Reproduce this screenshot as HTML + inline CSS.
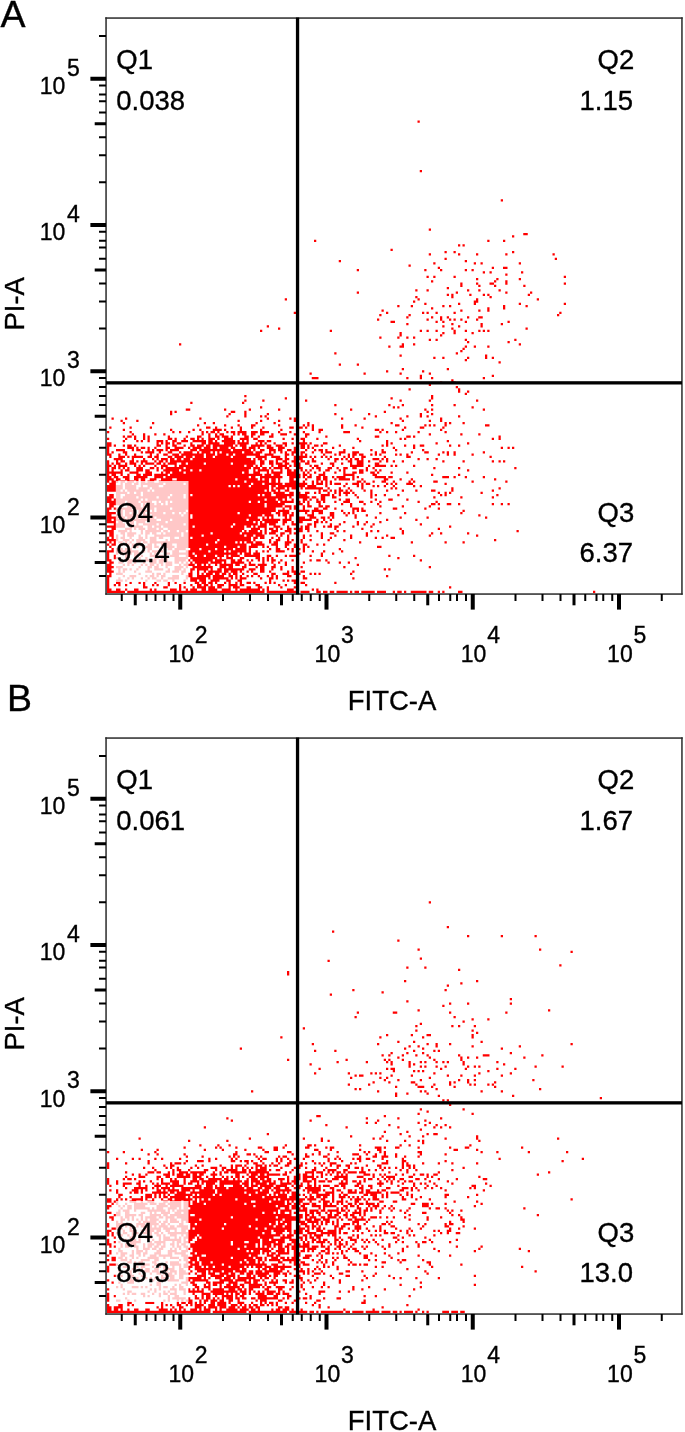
<!DOCTYPE html>
<html><head><meta charset="utf-8"><style>
html,body{margin:0;padding:0;background:#fff;width:685px;height:1432px;overflow:hidden}
svg{display:block;will-change:transform}
text{font-family:"Liberation Sans",sans-serif;stroke:#000;stroke-width:0.35px}
</style></head><body>
<svg width="685" height="1432" viewBox="0 0 685 1432">
<g transform="translate(107.0 17.0) scale(2.25)"><path fill="#f00" d="M138 46h1v1h-1zM139 68h1v1h-1zM175 81h1v1h-1zM143 94h1v1h-1zM185 96h2v1h-2zM180 97h1v1h-1zM92 99h1v1h-1zM169 99h1v1h-1zM176 99h1v1h-1zM156 101h1v1h-1zM158 101h1v1h-1zM126 103h1v1h-1zM150 104h1v1h-1zM154 104h1v1h-1zM180 104h1v1h-1zM143 105h1v1h-1zM156 105h1v1h-1zM164 105h1v1h-1zM177 105h1v1h-1zM198 105h1v1h-1zM150 107h1v1h-1zM199 107h1v1h-1zM103 108h1v1h-1zM159 108h1v1h-1zM145 109h1v1h-1zM163 109h1v1h-1zM166 109h1v1h-1zM183 109h1v1h-1zM134 110h1v1h-1zM147 111h1v1h-1zM171 111h1v1h-1zM176 111h2v1h-2zM111 112h1v1h-1zM141 112h1v1h-1zM148 112h1v1h-1zM159 112h1v1h-1zM162 112h1v1h-1zM167 113h1v1h-1zM170 113h1v1h-1zM184 113h1v1h-1zM177 114h1v1h-1zM142 115h1v1h-1zM145 115h1v1h-1zM154 115h1v1h-1zM203 115h1v1h-1zM164 116h1v1h-1zM173 116h1v1h-1zM183 116h1v1h-1zM144 117h1v1h-1zM172 117h1v1h-1zM177 117h1v1h-1zM157 118h1v1h-1zM164 118h1v1h-1zM170 118h2v1h-2zM177 118h1v1h-1zM203 118h1v1h-1zM157 119h1v1h-1zM165 119h1v1h-1zM172 119h1v1h-1zM185 119h1v1h-1zM151 120h1v1h-1zM137 121h1v1h-1zM142 121h1v1h-1zM160 121h1v1h-1zM165 121h1v1h-1zM174 121h1v1h-1zM111 122h1v1h-1zM155 122h1v1h-1zM177 122h1v1h-1zM188 122h1v1h-1zM151 123h1v1h-1zM153 123h1v1h-1zM161 123h1v1h-1zM167 123h1v1h-1zM169 123h1v1h-1zM187 123h1v1h-1zM137 124h1v1h-1zM153 124h1v1h-1zM170 124h1v1h-1zM79 125h1v1h-1zM138 125h1v1h-1zM164 125h1v1h-1zM191 125h1v1h-1zM136 126h1v1h-1zM163 126h2v1h-2zM141 127h1v1h-1zM156 127h1v1h-1zM163 127h1v1h-1zM183 127h1v1h-1zM203 127h1v1h-1zM129 128h1v1h-1zM135 128h1v1h-1zM149 128h1v1h-1zM152 128h1v1h-1zM176 128h1v1h-1zM186 128h1v1h-1zM144 129h1v1h-1zM169 129h1v1h-1zM176 129h1v1h-1zM122 130h1v1h-1zM157 130h1v1h-1zM165 130h1v1h-1zM169 130h1v1h-1zM83 131h1v1h-1zM124 131h1v1h-1zM140 131h1v1h-1zM142 131h1v1h-1zM146 131h1v1h-1zM154 131h1v1h-1zM201 131h1v1h-1zM121 132h1v1h-1zM134 132h1v1h-1zM200 132h1v1h-1zM133 133h1v1h-1zM144 133h1v1h-1zM148 133h1v1h-1zM151 133h1v1h-1zM160 133h1v1h-1zM165 133h2v1h-2zM120 134h1v1h-1zM142 134h1v1h-1zM148 134h1v1h-1zM152 134h1v1h-1zM154 134h1v1h-1zM157 134h1v1h-1zM164 134h1v1h-1zM126 135h2v1h-2zM146 135h1v1h-1zM149 135h1v1h-1zM159 135h1v1h-1zM178 135h1v1h-1zM133 136h1v1h-1zM153 136h1v1h-1zM166 136h1v1h-1zM175 136h1v1h-1zM71 137h1v1h-1zM149 137h1v1h-1zM156 137h1v1h-1zM166 137h1v1h-1zM76 138h1v1h-1zM153 138h1v1h-1zM186 138h1v1h-1zM68 139h1v1h-1zM99 139h1v1h-1zM139 139h1v1h-1zM142 139h1v1h-1zM146 139h1v1h-1zM154 139h1v1h-1zM159 139h1v1h-1zM165 139h1v1h-1zM167 139h1v1h-1zM169 139h1v1h-1zM130 140h1v1h-1zM149 140h1v1h-1zM154 140h1v1h-1zM162 140h1v1h-1zM130 141h1v1h-1zM148 141h1v1h-1zM121 142h1v1h-1zM129 142h1v1h-1zM133 142h1v1h-1zM136 142h1v1h-1zM143 143h1v1h-1zM146 143h1v1h-1zM159 143h1v1h-1zM181 143h1v1h-1zM160 144h1v1h-1zM178 144h1v1h-1zM32 145h1v1h-1zM131 145h1v1h-1zM136 145h1v1h-1zM183 145h1v1h-1zM125 146h1v1h-1zM130 146h2v1h-2zM159 146h1v1h-1zM163 146h1v1h-1zM169 146h1v1h-1zM158 147h1v1h-1zM157 148h1v1h-1zM101 149h1v1h-1zM155 149h1v1h-1zM130 150h1v1h-1zM168 150h1v1h-1zM145 151h1v1h-1zM149 151h1v1h-1zM160 151h1v1h-1zM168 151h1v1h-1zM171 151h1v1h-1zM159 152h1v1h-1zM174 153h1v1h-1zM103 154h1v1h-1zM111 154h1v1h-1zM131 156h1v1h-1zM151 156h1v1h-1zM124 157h1v1h-1zM140 157h1v1h-1zM90 158h1v1h-1zM114 158h1v1h-1zM130 158h1v1h-1zM143 158h1v1h-1zM139 159h1v1h-1zM171 159h1v1h-1zM91 160h3v1h-3zM133 160h1v1h-1zM139 160h1v1h-1zM144 160h1v1h-1zM167 160h1v1h-1zM153 161h1v1h-1zM148 162h1v1h-1zM153 162h2v1h-2zM143 163h1v1h-1zM155 164h1v1h-1zM134 165h1v1h-1zM156 165h1v1h-1zM156 166h1v1h-1zM160 166h1v1h-1zM159 167h1v1h-1zM61 168h1v1h-1zM144 168h1v1h-1zM79 169h1v1h-1zM126 169h1v1h-1zM144 169h1v1h-1zM61 170h1v1h-1zM69 170h1v1h-1zM88 170h1v1h-1zM130 170h1v1h-1zM143 170h1v1h-1zM164 170h1v1h-1zM37 171h1v1h-1zM60 171h1v1h-1zM101 172h1v1h-1zM125 172h1v1h-1zM131 172h1v1h-1zM144 172h1v1h-1zM154 172h1v1h-1zM68 173h1v1h-1zM127 173h1v1h-1zM129 173h1v1h-1zM162 173h1v1h-1zM35 174h2v1h-2zM52 174h1v1h-1zM63 174h1v1h-1zM76 174h1v1h-1zM108 174h1v1h-1zM141 174h1v1h-1zM144 174h1v1h-1zM167 174h1v1h-1zM28 175h1v1h-1zM30 175h1v1h-1zM55 175h2v1h-2zM61 175h1v1h-1zM123 175h1v1h-1zM142 175h1v1h-1zM28 176h1v1h-1zM54 176h1v1h-1zM61 176h1v1h-1zM71 176h1v1h-1zM101 176h1v1h-1zM116 176h1v1h-1zM139 176h1v1h-1zM144 176h1v1h-1zM53 177h1v1h-1zM61 177h1v1h-1zM68 177h1v1h-1zM70 177h1v1h-1zM119 177h1v1h-1zM133 177h1v1h-1zM139 177h1v1h-1zM142 177h1v1h-1zM156 177h1v1h-1zM2 178h1v1h-1zM8 178h1v1h-1zM41 178h1v1h-1zM71 178h1v1h-1zM81 178h1v1h-1zM83 178h1v1h-1zM104 178h1v1h-1zM114 178h1v1h-1zM130 178h1v1h-1zM148 178h1v1h-1zM6 179h1v1h-1zM13 179h1v1h-1zM58 179h1v1h-1zM68 179h1v1h-1zM76 179h1v1h-1zM83 179h1v1h-1zM131 179h1v1h-1zM143 179h1v1h-1zM148 179h1v1h-1zM7 180h1v1h-1zM20 180h1v1h-1zM43 180h1v1h-1zM47 180h1v1h-1zM66 180h1v1h-1zM74 180h1v1h-1zM89 180h1v1h-1zM126 180h1v1h-1zM150 180h1v1h-1zM152 180h1v1h-1zM158 180h1v1h-1zM40 181h1v1h-1zM52 181h1v1h-1zM58 181h1v1h-1zM64 181h2v1h-2zM76 181h1v1h-1zM87 181h1v1h-1zM89 181h1v1h-1zM91 181h1v1h-1zM104 181h1v1h-1zM110 181h1v1h-1zM128 181h2v1h-2zM141 181h1v1h-1zM143 181h1v1h-1zM145 181h1v1h-1zM150 181h1v1h-1zM168 181h2v1h-2zM1 182h1v1h-1zM10 182h1v1h-1zM19 182h1v1h-1zM44 182h2v1h-2zM48 182h1v1h-1zM55 182h1v1h-1zM59 182h1v1h-1zM64 182h1v1h-1zM69 182h1v1h-1zM81 182h2v1h-2zM85 182h2v1h-2zM88 182h1v1h-1zM91 182h1v1h-1zM104 182h1v1h-1zM113 182h1v1h-1zM132 182h1v1h-1zM139 182h2v1h-2zM149 182h1v1h-1zM7 183h1v1h-1zM28 183h1v1h-1zM38 183h1v1h-1zM41 183h1v1h-1zM47 183h4v1h-4zM52 183h1v1h-1zM59 183h1v1h-1zM68 183h1v1h-1zM77 183h1v1h-1zM91 183h1v1h-1zM94 183h2v1h-2zM119 183h2v1h-2zM122 183h1v1h-1zM131 183h1v1h-1zM148 183h1v1h-1zM0 184h1v1h-1zM10 184h1v1h-1zM29 184h1v1h-1zM32 184h1v1h-1zM36 184h1v1h-1zM42 184h1v1h-1zM44 184h1v1h-1zM46 184h2v1h-2zM49 184h1v1h-1zM53 184h1v1h-1zM55 184h2v1h-2zM58 184h4v1h-4zM64 184h3v1h-3zM68 184h4v1h-4zM76 184h1v1h-1zM81 184h1v1h-1zM87 184h1v1h-1zM94 184h1v1h-1zM105 184h3v1h-3zM121 184h1v1h-1zM124 184h1v1h-1zM128 184h1v1h-1zM138 184h1v1h-1zM150 184h1v1h-1zM11 185h1v1h-1zM16 185h1v1h-1zM21 185h1v1h-1zM25 185h1v1h-1zM42 185h1v1h-1zM45 185h1v1h-1zM48 185h1v1h-1zM50 185h2v1h-2zM56 185h1v1h-1zM58 185h1v1h-1zM60 185h2v1h-2zM64 185h2v1h-2zM68 185h2v1h-2zM73 185h1v1h-1zM77 185h3v1h-3zM83 185h1v1h-1zM88 185h2v1h-2zM143 185h1v1h-1zM157 185h1v1h-1zM165 185h1v1h-1zM7 186h1v1h-1zM9 186h2v1h-2zM12 186h1v1h-1zM16 186h1v1h-1zM18 186h1v1h-1zM27 186h1v1h-1zM35 186h1v1h-1zM40 186h2v1h-2zM45 186h1v1h-1zM48 186h2v1h-2zM51 186h3v1h-3zM55 186h1v1h-1zM61 186h2v1h-2zM64 186h1v1h-1zM67 186h1v1h-1zM72 186h2v1h-2zM88 186h1v1h-1zM97 186h1v1h-1zM119 186h2v1h-2zM133 186h2v1h-2zM136 186h1v1h-1zM174 186h1v1h-1zM0 187h1v1h-1zM8 187h1v1h-1zM12 187h1v1h-1zM16 187h1v1h-1zM18 187h1v1h-1zM27 187h2v1h-2zM30 187h1v1h-1zM34 187h1v1h-1zM37 187h2v1h-2zM40 187h1v1h-1zM42 187h1v1h-1zM45 187h3v1h-3zM49 187h1v1h-1zM52 187h4v1h-4zM59 187h4v1h-4zM65 187h2v1h-2zM78 187h1v1h-1zM82 187h1v1h-1zM86 187h2v1h-2zM93 187h1v1h-1zM111 187h1v1h-1zM130 187h1v1h-1zM132 187h1v1h-1zM171 187h1v1h-1zM174 187h1v1h-1zM7 188h1v1h-1zM13 188h1v1h-1zM15 188h1v1h-1zM18 188h1v1h-1zM22 188h3v1h-3zM26 188h1v1h-1zM29 188h2v1h-2zM33 188h3v1h-3zM38 188h6v1h-6zM45 188h2v1h-2zM48 188h1v1h-1zM51 188h6v1h-6zM58 188h1v1h-1zM60 188h1v1h-1zM62 188h1v1h-1zM67 188h3v1h-3zM71 188h2v1h-2zM87 188h1v1h-1zM112 188h1v1h-1zM124 188h1v1h-1zM151 188h1v1h-1zM0 189h2v1h-2zM22 189h1v1h-1zM24 189h1v1h-1zM26 189h2v1h-2zM29 189h1v1h-1zM31 189h2v1h-2zM37 189h1v1h-1zM42 189h2v1h-2zM45 189h5v1h-5zM52 189h5v1h-5zM58 189h5v1h-5zM66 189h1v1h-1zM68 189h1v1h-1zM70 189h1v1h-1zM74 189h1v1h-1zM78 189h2v1h-2zM82 189h1v1h-1zM85 189h4v1h-4zM90 189h1v1h-1zM96 189h2v1h-2zM124 189h1v1h-1zM126 189h1v1h-1zM146 189h1v1h-1zM160 189h1v1h-1zM0 190h2v1h-2zM3 190h1v1h-1zM7 190h1v1h-1zM9 190h2v1h-2zM12 190h1v1h-1zM22 190h2v1h-2zM26 190h1v1h-1zM29 190h2v1h-2zM34 190h1v1h-1zM37 190h2v1h-2zM40 190h3v1h-3zM44 190h2v1h-2zM47 190h9v1h-9zM57 190h1v1h-1zM59 190h3v1h-3zM64 190h6v1h-6zM71 190h2v1h-2zM75 190h3v1h-3zM79 190h1v1h-1zM86 190h2v1h-2zM89 190h1v1h-1zM92 190h2v1h-2zM95 190h1v1h-1zM103 190h1v1h-1zM122 190h1v1h-1zM124 190h1v1h-1zM132 190h1v1h-1zM136 190h1v1h-1zM139 190h2v1h-2zM152 190h1v1h-1zM156 190h1v1h-1zM0 191h1v1h-1zM9 191h3v1h-3zM13 191h1v1h-1zM15 191h2v1h-2zM18 191h1v1h-1zM21 191h1v1h-1zM26 191h2v1h-2zM30 191h4v1h-4zM36 191h1v1h-1zM38 191h4v1h-4zM43 191h3v1h-3zM47 191h2v1h-2zM50 191h4v1h-4zM55 191h2v1h-2zM60 191h2v1h-2zM63 191h3v1h-3zM67 191h1v1h-1zM71 191h3v1h-3zM76 191h3v1h-3zM83 191h2v1h-2zM86 191h2v1h-2zM89 191h1v1h-1zM91 191h1v1h-1zM100 191h1v1h-1zM109 191h1v1h-1zM127 191h1v1h-1zM136 191h1v1h-1zM175 191h1v1h-1zM178 191h1v1h-1zM180 191h1v1h-1zM0 192h1v1h-1zM4 192h4v1h-4zM11 192h1v1h-1zM13 192h2v1h-2zM18 192h1v1h-1zM20 192h1v1h-1zM22 192h3v1h-3zM26 192h1v1h-1zM28 192h4v1h-4zM37 192h3v1h-3zM41 192h14v1h-14zM56 192h8v1h-8zM65 192h1v1h-1zM68 192h2v1h-2zM72 192h3v1h-3zM76 192h2v1h-2zM80 192h2v1h-2zM83 192h2v1h-2zM88 192h1v1h-1zM92 192h1v1h-1zM94 192h2v1h-2zM97 192h1v1h-1zM105 192h1v1h-1zM117 192h1v1h-1zM122 192h1v1h-1zM128 192h1v1h-1zM140 192h1v1h-1zM0 193h1v1h-1zM2 193h1v1h-1zM7 193h2v1h-2zM15 193h1v1h-1zM17 193h4v1h-4zM23 193h1v1h-1zM27 193h2v1h-2zM32 193h1v1h-1zM34 193h4v1h-4zM40 193h1v1h-1zM42 193h4v1h-4zM47 193h1v1h-1zM49 193h1v1h-1zM51 193h9v1h-9zM61 193h4v1h-4zM66 193h3v1h-3zM72 193h1v1h-1zM74 193h1v1h-1zM77 193h1v1h-1zM79 193h1v1h-1zM82 193h2v1h-2zM86 193h2v1h-2zM91 193h1v1h-1zM95 193h1v1h-1zM97 193h3v1h-3zM103 193h3v1h-3zM109 193h3v1h-3zM119 193h1v1h-1zM122 193h2v1h-2zM135 193h1v1h-1zM141 193h2v1h-2zM149 193h1v1h-1zM151 193h1v1h-1zM154 193h1v1h-1zM167 193h1v1h-1zM0 194h2v1h-2zM5 194h1v1h-1zM8 194h1v1h-1zM12 194h1v1h-1zM19 194h1v1h-1zM22 194h1v1h-1zM25 194h2v1h-2zM29 194h3v1h-3zM33 194h10v1h-10zM44 194h4v1h-4zM49 194h4v1h-4zM54 194h2v1h-2zM57 194h11v1h-11zM70 194h4v1h-4zM79 194h2v1h-2zM82 194h1v1h-1zM84 194h1v1h-1zM86 194h1v1h-1zM88 194h1v1h-1zM96 194h1v1h-1zM101 194h1v1h-1zM103 194h1v1h-1zM107 194h1v1h-1zM109 194h2v1h-2zM112 194h2v1h-2zM117 194h1v1h-1zM119 194h1v1h-1zM121 194h1v1h-1zM128 194h1v1h-1zM130 194h1v1h-1zM133 194h1v1h-1zM147 194h1v1h-1zM151 194h1v1h-1zM154 194h1v1h-1zM162 194h1v1h-1zM1 195h1v1h-1zM5 195h3v1h-3zM9 195h1v1h-1zM11 195h5v1h-5zM18 195h2v1h-2zM21 195h2v1h-2zM27 195h2v1h-2zM30 195h4v1h-4zM35 195h3v1h-3zM39 195h4v1h-4zM44 195h3v1h-3zM48 195h7v1h-7zM56 195h6v1h-6zM66 195h5v1h-5zM73 195h4v1h-4zM79 195h1v1h-1zM83 195h1v1h-1zM85 195h4v1h-4zM90 195h1v1h-1zM92 195h1v1h-1zM95 195h1v1h-1zM97 195h1v1h-1zM99 195h1v1h-1zM105 195h1v1h-1zM107 195h1v1h-1zM109 195h1v1h-1zM113 195h2v1h-2zM123 195h1v1h-1zM133 195h2v1h-2zM170 195h1v1h-1zM3 196h4v1h-4zM11 196h1v1h-1zM16 196h1v1h-1zM20 196h1v1h-1zM22 196h1v1h-1zM24 196h3v1h-3zM28 196h2v1h-2zM31 196h2v1h-2zM34 196h3v1h-3zM38 196h26v1h-26zM65 196h1v1h-1zM67 196h2v1h-2zM70 196h1v1h-1zM75 196h3v1h-3zM79 196h2v1h-2zM83 196h1v1h-1zM85 196h2v1h-2zM91 196h1v1h-1zM98 196h1v1h-1zM101 196h2v1h-2zM104 196h1v1h-1zM106 196h1v1h-1zM108 196h1v1h-1zM110 196h2v1h-2zM113 196h1v1h-1zM118 196h3v1h-3zM122 196h1v1h-1zM124 196h1v1h-1zM138 196h1v1h-1zM142 196h1v1h-1zM146 196h1v1h-1zM0 197h1v1h-1zM4 197h1v1h-1zM6 197h2v1h-2zM10 197h2v1h-2zM13 197h1v1h-1zM15 197h3v1h-3zM21 197h1v1h-1zM23 197h2v1h-2zM26 197h1v1h-1zM28 197h38v1h-38zM68 197h2v1h-2zM72 197h2v1h-2zM75 197h1v1h-1zM78 197h2v1h-2zM82 197h3v1h-3zM86 197h2v1h-2zM89 197h1v1h-1zM91 197h2v1h-2zM101 197h1v1h-1zM107 197h2v1h-2zM111 197h3v1h-3zM116 197h1v1h-1zM121 197h1v1h-1zM124 197h1v1h-1zM127 197h1v1h-1zM131 197h1v1h-1zM149 197h1v1h-1zM158 197h1v1h-1zM171 197h1v1h-1zM174 197h1v1h-1zM176 197h1v1h-1zM0 198h1v1h-1zM2 198h1v1h-1zM4 198h2v1h-2zM8 198h1v1h-1zM10 198h3v1h-3zM15 198h1v1h-1zM17 198h4v1h-4zM22 198h2v1h-2zM25 198h1v1h-1zM27 198h4v1h-4zM33 198h2v1h-2zM36 198h7v1h-7zM44 198h11v1h-11zM56 198h10v1h-10zM68 198h2v1h-2zM72 198h2v1h-2zM75 198h3v1h-3zM79 198h2v1h-2zM83 198h1v1h-1zM85 198h1v1h-1zM88 198h2v1h-2zM95 198h1v1h-1zM99 198h2v1h-2zM104 198h1v1h-1zM108 198h1v1h-1zM111 198h3v1h-3zM119 198h2v1h-2zM0 199h2v1h-2zM3 199h1v1h-1zM5 199h4v1h-4zM12 199h1v1h-1zM14 199h1v1h-1zM16 199h1v1h-1zM21 199h1v1h-1zM24 199h3v1h-3zM30 199h1v1h-1zM32 199h29v1h-29zM62 199h3v1h-3zM66 199h1v1h-1zM68 199h1v1h-1zM73 199h1v1h-1zM76 199h4v1h-4zM81 199h1v1h-1zM83 199h3v1h-3zM90 199h1v1h-1zM92 199h2v1h-2zM100 199h1v1h-1zM108 199h6v1h-6zM116 199h1v1h-1zM119 199h5v1h-5zM126 199h1v1h-1zM128 199h1v1h-1zM136 199h1v1h-1zM0 200h1v1h-1zM2 200h2v1h-2zM5 200h1v1h-1zM7 200h1v1h-1zM9 200h1v1h-1zM13 200h3v1h-3zM19 200h2v1h-2zM22 200h1v1h-1zM24 200h1v1h-1zM26 200h8v1h-8zM35 200h29v1h-29zM65 200h3v1h-3zM69 200h2v1h-2zM72 200h1v1h-1zM74 200h4v1h-4zM79 200h2v1h-2zM84 200h3v1h-3zM91 200h1v1h-1zM93 200h2v1h-2zM98 200h2v1h-2zM102 200h1v1h-1zM105 200h2v1h-2zM109 200h2v1h-2zM115 200h1v1h-1zM118 200h1v1h-1zM145 200h1v1h-1zM156 200h1v1h-1zM181 200h1v1h-1zM0 201h1v1h-1zM2 201h1v1h-1zM6 201h1v1h-1zM8 201h2v1h-2zM13 201h3v1h-3zM17 201h2v1h-2zM22 201h1v1h-1zM25 201h7v1h-7zM33 201h4v1h-4zM38 201h3v1h-3zM42 201h21v1h-21zM65 201h1v1h-1zM67 201h5v1h-5zM73 201h1v1h-1zM77 201h1v1h-1zM80 201h2v1h-2zM83 201h2v1h-2zM86 201h1v1h-1zM88 201h1v1h-1zM90 201h1v1h-1zM94 201h1v1h-1zM97 201h2v1h-2zM103 201h1v1h-1zM105 201h1v1h-1zM112 201h2v1h-2zM115 201h1v1h-1zM119 201h1v1h-1zM121 201h1v1h-1zM160 201h1v1h-1zM0 202h7v1h-7zM10 202h4v1h-4zM17 202h3v1h-3zM24 202h1v1h-1zM26 202h2v1h-2zM29 202h5v1h-5zM35 202h25v1h-25zM61 202h2v1h-2zM65 202h3v1h-3zM71 202h1v1h-1zM73 202h5v1h-5zM80 202h4v1h-4zM87 202h1v1h-1zM89 202h1v1h-1zM92 202h1v1h-1zM96 202h1v1h-1zM101 202h1v1h-1zM105 202h1v1h-1zM109 202h2v1h-2zM112 202h2v1h-2zM117 202h2v1h-2zM120 202h1v1h-1zM126 202h1v1h-1zM133 202h1v1h-1zM0 203h1v1h-1zM2 203h2v1h-2zM6 203h1v1h-1zM9 203h1v1h-1zM13 203h2v1h-2zM16 203h4v1h-4zM21 203h6v1h-6zM28 203h41v1h-41zM70 203h3v1h-3zM74 203h3v1h-3zM80 203h4v1h-4zM85 203h1v1h-1zM87 203h2v1h-2zM90 203h1v1h-1zM94 203h3v1h-3zM105 203h5v1h-5zM118 203h2v1h-2zM144 203h1v1h-1zM156 203h1v1h-1zM0 204h2v1h-2zM3 204h2v1h-2zM7 204h3v1h-3zM12 204h6v1h-6zM21 204h4v1h-4zM26 204h37v1h-37zM64 204h2v1h-2zM68 204h10v1h-10zM81 204h3v1h-3zM85 204h1v1h-1zM87 204h1v1h-1zM89 204h2v1h-2zM93 204h2v1h-2zM96 204h2v1h-2zM100 204h1v1h-1zM102 204h4v1h-4zM109 204h1v1h-1zM111 204h1v1h-1zM119 204h5v1h-5zM125 204h2v1h-2zM149 204h3v1h-3zM154 204h1v1h-1zM159 204h1v1h-1zM167 204h1v1h-1zM0 205h3v1h-3zM4 205h2v1h-2zM8 205h2v1h-2zM12 205h2v1h-2zM15 205h2v1h-2zM19 205h3v1h-3zM24 205h5v1h-5zM31 205h26v1h-26zM58 205h9v1h-9zM68 205h1v1h-1zM70 205h2v1h-2zM73 205h2v1h-2zM76 205h1v1h-1zM81 205h2v1h-2zM88 205h1v1h-1zM93 205h2v1h-2zM96 205h2v1h-2zM101 205h1v1h-1zM103 205h5v1h-5zM109 205h1v1h-1zM113 205h1v1h-1zM123 205h2v1h-2zM130 205h1v1h-1zM135 205h1v1h-1zM172 205h1v1h-1zM0 206h1v1h-1zM2 206h3v1h-3zM6 206h2v1h-2zM9 206h3v1h-3zM13 206h1v1h-1zM15 206h2v1h-2zM18 206h3v1h-3zM23 206h38v1h-38zM62 206h10v1h-10zM73 206h2v1h-2zM76 206h1v1h-1zM81 206h4v1h-4zM87 206h1v1h-1zM91 206h1v1h-1zM93 206h1v1h-1zM95 206h1v1h-1zM97 206h1v1h-1zM99 206h1v1h-1zM111 206h2v1h-2zM114 206h1v1h-1zM118 206h1v1h-1zM122 206h2v1h-2zM127 206h1v1h-1zM134 206h1v1h-1zM136 206h1v1h-1zM145 206h2v1h-2zM162 206h1v1h-1zM177 206h1v1h-1zM1 207h3v1h-3zM6 207h1v1h-1zM8 207h3v1h-3zM12 207h2v1h-2zM15 207h10v1h-10zM26 207h8v1h-8zM35 207h29v1h-29zM65 207h4v1h-4zM70 207h8v1h-8zM79 207h5v1h-5zM85 207h4v1h-4zM91 207h1v1h-1zM93 207h3v1h-3zM97 207h1v1h-1zM99 207h1v1h-1zM101 207h3v1h-3zM106 207h1v1h-1zM109 207h3v1h-3zM113 207h1v1h-1zM115 207h2v1h-2zM124 207h1v1h-1zM126 207h1v1h-1zM128 207h1v1h-1zM133 207h3v1h-3zM150 207h1v1h-1zM0 208h7v1h-7zM8 208h5v1h-5zM15 208h1v1h-1zM18 208h5v1h-5zM25 208h29v1h-29zM55 208h1v1h-1zM57 208h1v1h-1zM59 208h4v1h-4zM64 208h8v1h-8zM73 208h2v1h-2zM76 208h8v1h-8zM85 208h3v1h-3zM89 208h4v1h-4zM97 208h1v1h-1zM105 208h1v1h-1zM111 208h1v1h-1zM113 208h1v1h-1zM118 208h1v1h-1zM120 208h1v1h-1zM123 208h1v1h-1zM127 208h1v1h-1zM136 208h1v1h-1zM139 208h1v1h-1zM0 209h7v1h-7zM8 209h5v1h-5zM14 209h5v1h-5zM20 209h52v1h-52zM73 209h1v1h-1zM75 209h4v1h-4zM80 209h1v1h-1zM82 209h3v1h-3zM86 209h1v1h-1zM88 209h8v1h-8zM98 209h1v1h-1zM103 209h1v1h-1zM107 209h1v1h-1zM113 209h1v1h-1zM126 209h1v1h-1zM128 209h1v1h-1zM153 209h1v1h-1zM174 209h1v1h-1zM0 210h6v1h-6zM7 210h1v1h-1zM9 210h9v1h-9zM19 210h1v1h-1zM21 210h49v1h-49zM71 210h1v1h-1zM73 210h2v1h-2zM76 210h1v1h-1zM79 210h2v1h-2zM84 210h1v1h-1zM94 210h1v1h-1zM96 210h2v1h-2zM99 210h1v1h-1zM101 210h1v1h-1zM103 210h2v1h-2zM106 210h1v1h-1zM108 210h1v1h-1zM114 210h1v1h-1zM117 210h1v1h-1zM124 210h1v1h-1zM131 210h1v1h-1zM137 210h1v1h-1zM144 210h2v1h-2zM153 210h1v1h-1zM171 210h1v1h-1zM4 211h5v1h-5zM10 211h2v1h-2zM13 211h2v1h-2zM16 211h57v1h-57zM74 211h5v1h-5zM81 211h2v1h-2zM84 211h2v1h-2zM88 211h2v1h-2zM92 211h1v1h-1zM94 211h1v1h-1zM98 211h1v1h-1zM101 211h1v1h-1zM103 211h1v1h-1zM105 211h3v1h-3zM109 211h1v1h-1zM117 211h1v1h-1zM147 211h1v1h-1zM150 211h1v1h-1zM152 211h1v1h-1zM166 211h1v1h-1zM1 212h2v1h-2zM4 212h2v1h-2zM8 212h7v1h-7zM16 212h12v1h-12zM29 212h5v1h-5zM35 212h2v1h-2zM38 212h29v1h-29zM68 212h1v1h-1zM70 212h3v1h-3zM75 212h8v1h-8zM84 212h5v1h-5zM95 212h4v1h-4zM100 212h1v1h-1zM103 212h1v1h-1zM106 212h1v1h-1zM110 212h1v1h-1zM117 212h1v1h-1zM119 212h1v1h-1zM123 212h1v1h-1zM129 212h1v1h-1zM148 212h1v1h-1zM150 212h1v1h-1zM173 212h1v1h-1zM0 213h3v1h-3zM4 213h2v1h-2zM7 213h6v1h-6zM14 213h8v1h-8zM23 213h4v1h-4zM28 213h6v1h-6zM35 213h45v1h-45zM81 213h1v1h-1zM84 213h6v1h-6zM91 213h2v1h-2zM95 213h2v1h-2zM100 213h2v1h-2zM111 213h1v1h-1zM117 213h1v1h-1zM145 213h1v1h-1zM157 213h1v1h-1zM171 213h1v1h-1zM0 214h2v1h-2zM3 214h12v1h-12zM16 214h1v1h-1zM18 214h52v1h-52zM71 214h4v1h-4zM76 214h2v1h-2zM79 214h1v1h-1zM82 214h1v1h-1zM84 214h1v1h-1zM87 214h2v1h-2zM90 214h1v1h-1zM93 214h1v1h-1zM95 214h2v1h-2zM103 214h1v1h-1zM106 214h2v1h-2zM119 214h1v1h-1zM125 214h2v1h-2zM133 214h1v1h-1zM0 215h8v1h-8zM9 215h5v1h-5zM15 215h5v1h-5zM22 215h1v1h-1zM24 215h2v1h-2zM27 215h1v1h-1zM29 215h34v1h-34zM64 215h3v1h-3zM68 215h8v1h-8zM77 215h6v1h-6zM85 215h1v1h-1zM87 215h1v1h-1zM89 215h1v1h-1zM93 215h2v1h-2zM96 215h1v1h-1zM101 215h1v1h-1zM105 215h3v1h-3zM112 215h2v1h-2zM117 215h1v1h-1zM121 215h1v1h-1zM138 215h1v1h-1zM146 215h1v1h-1zM1 216h14v1h-14zM16 216h1v1h-1zM18 216h3v1h-3zM22 216h2v1h-2zM25 216h1v1h-1zM27 216h43v1h-43zM71 216h8v1h-8zM85 216h2v1h-2zM89 216h1v1h-1zM94 216h1v1h-1zM104 216h1v1h-1zM108 216h1v1h-1zM114 216h1v1h-1zM120 216h1v1h-1zM144 216h2v1h-2zM147 216h1v1h-1zM151 216h2v1h-2zM156 216h1v1h-1zM171 216h1v1h-1zM175 216h1v1h-1zM178 216h1v1h-1zM1 217h2v1h-2zM9 217h6v1h-6zM16 217h54v1h-54zM71 217h7v1h-7zM79 217h3v1h-3zM83 217h2v1h-2zM87 217h1v1h-1zM89 217h2v1h-2zM94 217h2v1h-2zM97 217h2v1h-2zM108 217h1v1h-1zM121 217h1v1h-1zM131 217h1v1h-1zM143 217h1v1h-1zM0 218h2v1h-2zM3 218h2v1h-2zM6 218h5v1h-5zM12 218h5v1h-5zM18 218h3v1h-3zM22 218h6v1h-6zM29 218h46v1h-46zM78 218h1v1h-1zM81 218h1v1h-1zM83 218h2v1h-2zM87 218h1v1h-1zM92 218h2v1h-2zM96 218h2v1h-2zM101 218h1v1h-1zM109 218h3v1h-3zM113 218h1v1h-1zM127 218h2v1h-2zM141 218h1v1h-1zM147 218h1v1h-1zM0 219h1v1h-1zM4 219h1v1h-1zM6 219h1v1h-1zM8 219h4v1h-4zM14 219h5v1h-5zM20 219h1v1h-1zM22 219h13v1h-13zM36 219h39v1h-39zM76 219h5v1h-5zM84 219h6v1h-6zM91 219h5v1h-5zM104 219h1v1h-1zM109 219h1v1h-1zM111 219h1v1h-1zM113 219h2v1h-2zM158 219h1v1h-1zM0 220h4v1h-4zM6 220h1v1h-1zM8 220h2v1h-2zM11 220h1v1h-1zM14 220h1v1h-1zM16 220h1v1h-1zM19 220h6v1h-6zM26 220h3v1h-3zM30 220h2v1h-2zM33 220h1v1h-1zM35 220h23v1h-23zM59 220h14v1h-14zM75 220h2v1h-2zM78 220h3v1h-3zM82 220h1v1h-1zM88 220h1v1h-1zM91 220h1v1h-1zM94 220h2v1h-2zM99 220h2v1h-2zM105 220h1v1h-1zM107 220h1v1h-1zM109 220h1v1h-1zM121 220h1v1h-1zM132 220h1v1h-1zM157 220h1v1h-1zM0 221h2v1h-2zM4 221h3v1h-3zM8 221h4v1h-4zM13 221h2v1h-2zM16 221h3v1h-3zM20 221h13v1h-13zM34 221h3v1h-3zM38 221h25v1h-25zM64 221h5v1h-5zM70 221h4v1h-4zM76 221h1v1h-1zM78 221h2v1h-2zM81 221h2v1h-2zM84 221h1v1h-1zM89 221h3v1h-3zM99 221h2v1h-2zM106 221h1v1h-1zM110 221h1v1h-1zM115 221h1v1h-1zM165 221h1v1h-1zM0 222h5v1h-5zM6 222h2v1h-2zM9 222h3v1h-3zM13 222h1v1h-1zM15 222h6v1h-6zM22 222h15v1h-15zM38 222h29v1h-29zM69 222h1v1h-1zM71 222h1v1h-1zM73 222h1v1h-1zM79 222h1v1h-1zM81 222h1v1h-1zM85 222h3v1h-3zM90 222h3v1h-3zM95 222h2v1h-2zM98 222h1v1h-1zM100 222h1v1h-1zM110 222h1v1h-1zM119 222h1v1h-1zM130 222h1v1h-1zM142 222h1v1h-1zM168 222h1v1h-1zM0 223h2v1h-2zM3 223h3v1h-3zM7 223h3v1h-3zM11 223h11v1h-11zM24 223h4v1h-4zM29 223h33v1h-33zM63 223h5v1h-5zM69 223h8v1h-8zM78 223h4v1h-4zM85 223h6v1h-6zM93 223h1v1h-1zM96 223h1v1h-1zM99 223h1v1h-1zM124 223h1v1h-1zM137 223h1v1h-1zM0 224h4v1h-4zM5 224h2v1h-2zM10 224h2v1h-2zM13 224h4v1h-4zM19 224h7v1h-7zM27 224h38v1h-38zM66 224h1v1h-1zM68 224h1v1h-1zM70 224h6v1h-6zM78 224h2v1h-2zM82 224h1v1h-1zM85 224h2v1h-2zM92 224h2v1h-2zM95 224h1v1h-1zM97 224h1v1h-1zM105 224h1v1h-1zM111 224h1v1h-1zM115 224h1v1h-1zM121 224h1v1h-1zM3 225h5v1h-5zM9 225h3v1h-3zM13 225h1v1h-1zM16 225h6v1h-6zM23 225h11v1h-11zM35 225h21v1h-21zM57 225h10v1h-10zM68 225h3v1h-3zM72 225h3v1h-3zM78 225h1v1h-1zM82 225h2v1h-2zM89 225h2v1h-2zM92 225h1v1h-1zM99 225h1v1h-1zM103 225h1v1h-1zM111 225h1v1h-1zM114 225h1v1h-1zM118 225h1v1h-1zM139 225h1v1h-1zM0 226h8v1h-8zM10 226h6v1h-6zM18 226h2v1h-2zM21 226h3v1h-3zM25 226h13v1h-13zM39 226h16v1h-16zM56 226h5v1h-5zM62 226h2v1h-2zM65 226h1v1h-1zM67 226h4v1h-4zM74 226h3v1h-3zM80 226h1v1h-1zM84 226h1v1h-1zM86 226h1v1h-1zM88 226h2v1h-2zM92 226h1v1h-1zM96 226h1v1h-1zM98 226h2v1h-2zM101 226h2v1h-2zM109 226h1v1h-1zM117 226h1v1h-1zM152 226h1v1h-1zM2 227h2v1h-2zM8 227h3v1h-3zM12 227h1v1h-1zM14 227h3v1h-3zM18 227h4v1h-4zM23 227h2v1h-2zM27 227h34v1h-34zM64 227h4v1h-4zM70 227h1v1h-1zM72 227h2v1h-2zM75 227h1v1h-1zM77 227h1v1h-1zM80 227h2v1h-2zM83 227h1v1h-1zM85 227h2v1h-2zM88 227h2v1h-2zM101 227h1v1h-1zM113 227h1v1h-1zM130 227h1v1h-1zM147 227h1v1h-1zM0 228h3v1h-3zM5 228h4v1h-4zM10 228h1v1h-1zM15 228h1v1h-1zM17 228h7v1h-7zM25 228h2v1h-2zM28 228h3v1h-3zM32 228h3v1h-3zM36 228h24v1h-24zM61 228h1v1h-1zM63 228h4v1h-4zM68 228h1v1h-1zM70 228h1v1h-1zM73 228h3v1h-3zM79 228h3v1h-3zM85 228h2v1h-2zM89 228h1v1h-1zM93 228h1v1h-1zM102 228h1v1h-1zM105 228h1v1h-1zM117 228h1v1h-1zM120 228h1v1h-1zM131 228h1v1h-1zM182 228h1v1h-1zM1 229h2v1h-2zM6 229h2v1h-2zM9 229h4v1h-4zM15 229h1v1h-1zM17 229h2v1h-2zM20 229h2v1h-2zM24 229h1v1h-1zM26 229h7v1h-7zM34 229h12v1h-12zM47 229h12v1h-12zM60 229h9v1h-9zM70 229h1v1h-1zM72 229h3v1h-3zM77 229h2v1h-2zM81 229h1v1h-1zM83 229h1v1h-1zM95 229h1v1h-1zM99 229h2v1h-2zM115 229h1v1h-1zM131 229h1v1h-1zM144 229h1v1h-1zM148 229h1v1h-1zM160 229h1v1h-1zM1 230h2v1h-2zM4 230h1v1h-1zM7 230h1v1h-1zM9 230h3v1h-3zM14 230h1v1h-1zM17 230h1v1h-1zM21 230h12v1h-12zM34 230h8v1h-8zM43 230h18v1h-18zM62 230h3v1h-3zM66 230h4v1h-4zM75 230h1v1h-1zM77 230h1v1h-1zM80 230h1v1h-1zM84 230h1v1h-1zM87 230h1v1h-1zM90 230h1v1h-1zM95 230h1v1h-1zM101 230h1v1h-1zM108 230h1v1h-1zM115 230h1v1h-1zM124 230h1v1h-1zM143 230h1v1h-1zM164 230h1v1h-1zM0 231h1v1h-1zM2 231h1v1h-1zM4 231h1v1h-1zM6 231h2v1h-2zM10 231h1v1h-1zM14 231h2v1h-2zM17 231h1v1h-1zM19 231h3v1h-3zM23 231h2v1h-2zM28 231h2v1h-2zM32 231h5v1h-5zM38 231h26v1h-26zM65 231h2v1h-2zM68 231h2v1h-2zM73 231h1v1h-1zM76 231h1v1h-1zM80 231h1v1h-1zM87 231h1v1h-1zM95 231h1v1h-1zM99 231h1v1h-1zM108 231h1v1h-1zM119 231h1v1h-1zM122 231h1v1h-1zM126 231h2v1h-2zM0 232h5v1h-5zM7 232h3v1h-3zM11 232h1v1h-1zM13 232h4v1h-4zM19 232h3v1h-3zM26 232h1v1h-1zM28 232h21v1h-21zM50 232h14v1h-14zM65 232h1v1h-1zM72 232h1v1h-1zM75 232h2v1h-2zM80 232h1v1h-1zM82 232h1v1h-1zM86 232h1v1h-1zM90 232h1v1h-1zM98 232h1v1h-1zM105 232h1v1h-1zM172 232h1v1h-1zM1 233h1v1h-1zM3 233h1v1h-1zM5 233h2v1h-2zM8 233h1v1h-1zM10 233h1v1h-1zM13 233h2v1h-2zM16 233h2v1h-2zM19 233h29v1h-29zM49 233h8v1h-8zM58 233h1v1h-1zM60 233h1v1h-1zM62 233h3v1h-3zM66 233h3v1h-3zM72 233h1v1h-1zM74 233h2v1h-2zM79 233h3v1h-3zM86 233h1v1h-1zM112 233h1v1h-1zM135 233h1v1h-1zM150 233h1v1h-1zM158 233h1v1h-1zM0 234h1v1h-1zM2 234h2v1h-2zM6 234h1v1h-1zM9 234h1v1h-1zM11 234h2v1h-2zM14 234h2v1h-2zM18 234h2v1h-2zM21 234h1v1h-1zM24 234h5v1h-5zM31 234h13v1h-13zM45 234h17v1h-17zM64 234h6v1h-6zM73 234h3v1h-3zM79 234h2v1h-2zM83 234h1v1h-1zM87 234h2v1h-2zM93 234h1v1h-1zM96 234h1v1h-1zM1 235h1v1h-1zM5 235h1v1h-1zM9 235h1v1h-1zM11 235h1v1h-1zM13 235h1v1h-1zM16 235h4v1h-4zM21 235h2v1h-2zM26 235h4v1h-4zM31 235h21v1h-21zM53 235h5v1h-5zM59 235h3v1h-3zM63 235h4v1h-4zM69 235h1v1h-1zM71 235h1v1h-1zM75 235h1v1h-1zM79 235h1v1h-1zM83 235h1v1h-1zM87 235h1v1h-1zM89 235h1v1h-1zM120 235h2v1h-2zM2 236h1v1h-1zM4 236h1v1h-1zM6 236h1v1h-1zM8 236h1v1h-1zM10 236h1v1h-1zM16 236h1v1h-1zM18 236h2v1h-2zM23 236h1v1h-1zM25 236h1v1h-1zM27 236h2v1h-2zM30 236h5v1h-5zM37 236h4v1h-4zM42 236h6v1h-6zM49 236h7v1h-7zM57 236h5v1h-5zM63 236h1v1h-1zM72 236h1v1h-1zM75 236h2v1h-2zM80 236h1v1h-1zM82 236h1v1h-1zM85 236h1v1h-1zM87 236h1v1h-1zM103 236h1v1h-1zM0 237h3v1h-3zM4 237h5v1h-5zM10 237h4v1h-4zM16 237h1v1h-1zM18 237h1v1h-1zM20 237h5v1h-5zM29 237h3v1h-3zM35 237h10v1h-10zM46 237h6v1h-6zM53 237h1v1h-1zM55 237h7v1h-7zM63 237h1v1h-1zM66 237h1v1h-1zM69 237h1v1h-1zM71 237h1v1h-1zM75 237h4v1h-4zM82 237h1v1h-1zM87 237h1v1h-1zM91 237h1v1h-1zM96 237h1v1h-1zM104 237h1v1h-1zM0 238h1v1h-1zM4 238h1v1h-1zM6 238h1v1h-1zM8 238h1v1h-1zM10 238h1v1h-1zM12 238h3v1h-3zM19 238h1v1h-1zM21 238h1v1h-1zM26 238h2v1h-2zM29 238h9v1h-9zM39 238h19v1h-19zM59 238h1v1h-1zM61 238h3v1h-3zM65 238h3v1h-3zM84 238h2v1h-2zM95 238h1v1h-1zM100 238h1v1h-1zM0 239h1v1h-1zM3 239h1v1h-1zM8 239h2v1h-2zM12 239h2v1h-2zM15 239h1v1h-1zM19 239h3v1h-3zM23 239h2v1h-2zM28 239h4v1h-4zM35 239h4v1h-4zM40 239h3v1h-3zM44 239h4v1h-4zM49 239h3v1h-3zM53 239h1v1h-1zM55 239h4v1h-4zM61 239h7v1h-7zM71 239h2v1h-2zM75 239h1v1h-1zM79 239h1v1h-1zM81 239h3v1h-3zM90 239h1v1h-1zM95 239h1v1h-1zM125 239h1v1h-1zM136 239h1v1h-1zM0 240h1v1h-1zM3 240h3v1h-3zM8 240h2v1h-2zM12 240h1v1h-1zM14 240h1v1h-1zM17 240h1v1h-1zM21 240h2v1h-2zM24 240h1v1h-1zM26 240h1v1h-1zM30 240h6v1h-6zM37 240h12v1h-12zM50 240h1v1h-1zM53 240h3v1h-3zM59 240h2v1h-2zM66 240h2v1h-2zM69 240h1v1h-1zM71 240h1v1h-1zM73 240h1v1h-1zM84 240h1v1h-1zM110 240h1v1h-1zM129 240h1v1h-1zM0 241h2v1h-2zM6 241h1v1h-1zM9 241h6v1h-6zM17 241h2v1h-2zM20 241h2v1h-2zM23 241h4v1h-4zM30 241h5v1h-5zM36 241h1v1h-1zM38 241h9v1h-9zM48 241h5v1h-5zM55 241h2v1h-2zM58 241h2v1h-2zM62 241h1v1h-1zM64 241h1v1h-1zM67 241h1v1h-1zM69 241h1v1h-1zM71 241h1v1h-1zM73 241h2v1h-2zM77 241h1v1h-1zM82 241h1v1h-1zM84 241h1v1h-1zM90 241h1v1h-1zM93 241h2v1h-2zM97 241h1v1h-1zM139 241h1v1h-1zM1 242h2v1h-2zM5 242h2v1h-2zM9 242h2v1h-2zM12 242h1v1h-1zM16 242h1v1h-1zM19 242h3v1h-3zM23 242h2v1h-2zM26 242h3v1h-3zM30 242h2v1h-2zM33 242h1v1h-1zM35 242h1v1h-1zM37 242h1v1h-1zM39 242h6v1h-6zM46 242h5v1h-5zM52 242h1v1h-1zM55 242h6v1h-6zM63 242h1v1h-1zM69 242h1v1h-1zM73 242h1v1h-1zM76 242h1v1h-1zM79 242h1v1h-1zM84 242h1v1h-1zM87 242h1v1h-1zM98 242h1v1h-1zM103 242h1v1h-1zM107 242h1v1h-1zM0 243h2v1h-2zM7 243h1v1h-1zM9 243h1v1h-1zM11 243h1v1h-1zM15 243h1v1h-1zM17 243h1v1h-1zM19 243h2v1h-2zM22 243h1v1h-1zM24 243h1v1h-1zM26 243h3v1h-3zM32 243h1v1h-1zM34 243h5v1h-5zM40 243h2v1h-2zM43 243h1v1h-1zM45 243h1v1h-1zM48 243h1v1h-1zM50 243h6v1h-6zM57 243h2v1h-2zM61 243h1v1h-1zM63 243h3v1h-3zM67 243h4v1h-4zM74 243h1v1h-1zM79 243h1v1h-1zM84 243h1v1h-1zM111 243h1v1h-1zM0 244h3v1h-3zM4 244h3v1h-3zM14 244h1v1h-1zM18 244h2v1h-2zM21 244h2v1h-2zM26 244h1v1h-1zM30 244h4v1h-4zM35 244h1v1h-1zM38 244h9v1h-9zM50 244h3v1h-3zM54 244h2v1h-2zM60 244h2v1h-2zM66 244h1v1h-1zM68 244h2v1h-2zM73 244h2v1h-2zM77 244h1v1h-1zM82 244h1v1h-1zM86 244h1v1h-1zM105 244h1v1h-1zM143 244h1v1h-1zM0 245h2v1h-2zM5 245h1v1h-1zM7 245h2v1h-2zM10 245h1v1h-1zM13 245h1v1h-1zM18 245h1v1h-1zM21 245h4v1h-4zM27 245h1v1h-1zM30 245h3v1h-3zM34 245h1v1h-1zM37 245h2v1h-2zM40 245h5v1h-5zM46 245h1v1h-1zM49 245h2v1h-2zM52 245h9v1h-9zM63 245h3v1h-3zM68 245h2v1h-2zM73 245h1v1h-1zM77 245h1v1h-1zM82 245h1v1h-1zM123 245h1v1h-1zM125 245h1v1h-1zM0 246h3v1h-3zM5 246h1v1h-1zM7 246h1v1h-1zM12 246h1v1h-1zM17 246h3v1h-3zM26 246h2v1h-2zM29 246h3v1h-3zM33 246h2v1h-2zM37 246h1v1h-1zM40 246h1v1h-1zM43 246h1v1h-1zM45 246h6v1h-6zM52 246h2v1h-2zM55 246h3v1h-3zM59 246h1v1h-1zM62 246h1v1h-1zM64 246h1v1h-1zM68 246h2v1h-2zM72 246h1v1h-1zM80 246h1v1h-1zM82 246h2v1h-2zM86 246h2v1h-2zM109 246h1v1h-1zM1 247h1v1h-1zM4 247h3v1h-3zM14 247h1v1h-1zM20 247h1v1h-1zM22 247h2v1h-2zM25 247h1v1h-1zM33 247h1v1h-1zM36 247h2v1h-2zM40 247h1v1h-1zM42 247h1v1h-1zM44 247h3v1h-3zM48 247h2v1h-2zM51 247h2v1h-2zM54 247h1v1h-1zM56 247h2v1h-2zM60 247h1v1h-1zM65 247h2v1h-2zM73 247h2v1h-2zM78 247h3v1h-3zM83 247h1v1h-1zM85 247h1v1h-1zM90 247h1v1h-1zM92 247h1v1h-1zM94 247h1v1h-1zM108 247h1v1h-1zM0 248h2v1h-2zM7 248h1v1h-1zM10 248h3v1h-3zM17 248h1v1h-1zM19 248h2v1h-2zM22 248h1v1h-1zM24 248h2v1h-2zM29 248h3v1h-3zM35 248h3v1h-3zM40 248h6v1h-6zM47 248h5v1h-5zM54 248h2v1h-2zM57 248h1v1h-1zM59 248h1v1h-1zM62 248h1v1h-1zM64 248h1v1h-1zM67 248h1v1h-1zM71 248h1v1h-1zM73 248h1v1h-1zM75 248h1v1h-1zM80 248h2v1h-2zM87 248h1v1h-1zM124 248h1v1h-1zM0 249h1v1h-1zM5 249h1v1h-1zM9 249h1v1h-1zM11 249h1v1h-1zM15 249h1v1h-1zM18 249h1v1h-1zM20 249h2v1h-2zM24 249h1v1h-1zM27 249h5v1h-5zM35 249h1v1h-1zM37 249h7v1h-7zM45 249h1v1h-1zM47 249h7v1h-7zM55 249h1v1h-1zM57 249h1v1h-1zM59 249h3v1h-3zM68 249h1v1h-1zM72 249h2v1h-2zM75 249h1v1h-1zM87 249h2v1h-2zM109 249h1v1h-1zM0 250h1v1h-1zM4 250h3v1h-3zM8 250h1v1h-1zM17 250h1v1h-1zM22 250h2v1h-2zM25 250h2v1h-2zM29 250h1v1h-1zM34 250h1v1h-1zM37 250h3v1h-3zM41 250h3v1h-3zM46 250h4v1h-4zM53 250h2v1h-2zM58 250h2v1h-2zM72 250h1v1h-1zM78 250h1v1h-1zM80 250h1v1h-1zM82 250h2v1h-2zM0 251h1v1h-1zM4 251h2v1h-2zM10 251h1v1h-1zM14 251h1v1h-1zM16 251h1v1h-1zM21 251h1v1h-1zM27 251h1v1h-1zM30 251h1v1h-1zM34 251h1v1h-1zM39 251h2v1h-2zM42 251h2v1h-2zM45 251h2v1h-2zM48 251h1v1h-1zM52 251h1v1h-1zM54 251h1v1h-1zM57 251h1v1h-1zM59 251h1v1h-1zM62 251h2v1h-2zM65 251h1v1h-1zM70 251h1v1h-1zM72 251h1v1h-1zM74 251h1v1h-1zM83 251h1v1h-1zM86 251h2v1h-2zM101 251h1v1h-1zM0 252h1v1h-1zM3 252h1v1h-1zM5 252h1v1h-1zM8 252h1v1h-1zM16 252h1v1h-1zM20 252h1v1h-1zM22 252h1v1h-1zM27 252h1v1h-1zM32 252h1v1h-1zM37 252h1v1h-1zM40 252h2v1h-2zM43 252h2v1h-2zM46 252h1v1h-1zM49 252h3v1h-3zM54 252h4v1h-4zM59 252h2v1h-2zM66 252h2v1h-2zM76 252h1v1h-1zM79 252h1v1h-1zM88 252h1v1h-1zM0 253h1v1h-1zM16 253h2v1h-2zM25 253h2v1h-2zM32 253h1v1h-1zM34 253h1v1h-1zM38 253h1v1h-1zM40 253h4v1h-4zM45 253h3v1h-3zM49 253h2v1h-2zM54 253h1v1h-1zM56 253h3v1h-3zM62 253h2v1h-2zM67 253h2v1h-2zM71 253h1v1h-1zM77 253h1v1h-1zM83 253h1v1h-1zM152 253h1v1h-1zM0 254h2v1h-2zM4 254h2v1h-2zM8 254h1v1h-1zM12 254h2v1h-2zM19 254h1v1h-1zM21 254h1v1h-1zM28 254h3v1h-3zM32 254h1v1h-1zM35 254h1v1h-1zM37 254h3v1h-3zM42 254h2v1h-2zM45 254h4v1h-4zM51 254h4v1h-4zM57 254h1v1h-1zM59 254h9v1h-9zM69 254h1v1h-1zM71 254h1v1h-1zM80 254h3v1h-3zM84 254h1v1h-1zM91 254h1v1h-1zM93 254h1v1h-1zM0 255h8v1h-8zM9 255h61v1h-61zM71 255h13v1h-13zM86 255h4v1h-4zM93 255h2v1h-2zM96 255h2v1h-2zM99 255h2v1h-2zM102 255h5v1h-5zM108 255h1v1h-1zM110 255h2v1h-2zM113 255h6v1h-6zM120 255h4v1h-4zM127 255h1v1h-1zM129 255h2v1h-2zM132 255h1v1h-1zM135 255h7v1h-7zM143 255h2v1h-2zM147 255h1v1h-1zM149 255h1v1h-1zM156 255h2v1h-2zM216 255h1v1h-1z"/></g>
<rect x="115.8" y="481.0" width="72.7" height="101" fill="#fff" fill-opacity="0.78"/>
<g fill="#2b2b2b"><rect x="105.3" y="17.3" width="577.4" height="1.5"/><rect x="105.3" y="593.3" width="577.4" height="1.5"/><rect x="105.3" y="17.3" width="1.5" height="577.4"/><rect x="681.2" y="17.3" width="1.5" height="577.4"/></g>
<rect x="295.9" y="17.5" width="3.3" height="577.0" fill="#000"/>
<rect x="106.0" y="381.2" width="576.0" height="3.3" fill="#000"/>
<g fill="#000"><rect x="120.75" y="594.00" width="2.00" height="7.00"/>
<rect x="99.00" y="575.00" width="7.00" height="2.00"/>
<rect x="133.75" y="594.00" width="3.00" height="11.30"/>
<rect x="94.70" y="561.00" width="11.30" height="3.00"/>
<rect x="145.50" y="594.00" width="2.00" height="7.00"/>
<rect x="99.00" y="550.25" width="7.00" height="2.00"/>
<rect x="154.50" y="594.00" width="2.00" height="7.00"/>
<rect x="99.00" y="541.25" width="7.00" height="2.00"/>
<rect x="163.50" y="594.00" width="2.00" height="7.00"/>
<rect x="99.00" y="532.25" width="7.00" height="2.00"/>
<rect x="172.50" y="594.00" width="2.00" height="7.00"/>
<rect x="99.00" y="523.25" width="7.00" height="2.00"/>
<rect x="178.25" y="594.00" width="4.00" height="15.60"/>
<rect x="90.40" y="515.50" width="15.60" height="4.00"/>
<rect x="222.00" y="594.00" width="2.00" height="7.00"/>
<rect x="99.00" y="473.75" width="7.00" height="2.00"/>
<rect x="249.00" y="594.00" width="2.00" height="7.00"/>
<rect x="99.00" y="446.75" width="7.00" height="2.00"/>
<rect x="267.00" y="594.00" width="2.00" height="7.00"/>
<rect x="99.00" y="428.75" width="7.00" height="2.00"/>
<rect x="280.00" y="594.00" width="3.00" height="11.30"/>
<rect x="94.70" y="414.75" width="11.30" height="3.00"/>
<rect x="291.75" y="594.00" width="2.00" height="7.00"/>
<rect x="99.00" y="404.00" width="7.00" height="2.00"/>
<rect x="300.75" y="594.00" width="2.00" height="7.00"/>
<rect x="99.00" y="395.00" width="7.00" height="2.00"/>
<rect x="309.75" y="594.00" width="2.00" height="7.00"/>
<rect x="99.00" y="386.00" width="7.00" height="2.00"/>
<rect x="318.75" y="594.00" width="2.00" height="7.00"/>
<rect x="99.00" y="377.00" width="7.00" height="2.00"/>
<rect x="324.50" y="594.00" width="4.00" height="15.60"/>
<rect x="90.40" y="369.25" width="15.60" height="4.00"/>
<rect x="368.25" y="594.00" width="2.00" height="7.00"/>
<rect x="99.00" y="327.50" width="7.00" height="2.00"/>
<rect x="395.25" y="594.00" width="2.00" height="7.00"/>
<rect x="99.00" y="300.50" width="7.00" height="2.00"/>
<rect x="413.25" y="594.00" width="2.00" height="7.00"/>
<rect x="99.00" y="282.50" width="7.00" height="2.00"/>
<rect x="426.25" y="594.00" width="3.00" height="11.30"/>
<rect x="94.70" y="268.50" width="11.30" height="3.00"/>
<rect x="438.00" y="594.00" width="2.00" height="7.00"/>
<rect x="99.00" y="257.75" width="7.00" height="2.00"/>
<rect x="449.25" y="594.00" width="2.00" height="7.00"/>
<rect x="99.00" y="246.50" width="7.00" height="2.00"/>
<rect x="456.00" y="594.00" width="2.00" height="7.00"/>
<rect x="99.00" y="239.75" width="7.00" height="2.00"/>
<rect x="465.00" y="594.00" width="2.00" height="7.00"/>
<rect x="99.00" y="230.75" width="7.00" height="2.00"/>
<rect x="470.75" y="594.00" width="4.00" height="15.60"/>
<rect x="90.40" y="223.00" width="15.60" height="4.00"/>
<rect x="514.50" y="594.00" width="2.00" height="7.00"/>
<rect x="99.00" y="181.25" width="7.00" height="2.00"/>
<rect x="541.50" y="594.00" width="2.00" height="7.00"/>
<rect x="99.00" y="154.25" width="7.00" height="2.00"/>
<rect x="559.50" y="594.00" width="2.00" height="7.00"/>
<rect x="99.00" y="136.25" width="7.00" height="2.00"/>
<rect x="572.50" y="594.00" width="3.00" height="11.30"/>
<rect x="94.70" y="122.25" width="11.30" height="3.00"/>
<rect x="584.25" y="594.00" width="2.00" height="7.00"/>
<rect x="99.00" y="111.50" width="7.00" height="2.00"/>
<rect x="595.50" y="594.00" width="2.00" height="7.00"/>
<rect x="99.00" y="100.25" width="7.00" height="2.00"/>
<rect x="602.25" y="594.00" width="2.00" height="7.00"/>
<rect x="99.00" y="93.50" width="7.00" height="2.00"/>
<rect x="611.25" y="594.00" width="2.00" height="7.00"/>
<rect x="99.00" y="84.50" width="7.00" height="2.00"/>
<rect x="617.00" y="594.00" width="4.00" height="15.60"/>
<rect x="90.40" y="76.75" width="15.60" height="4.00"/>
<rect x="660.75" y="594.00" width="2.00" height="7.00"/>
<rect x="99.00" y="35.00" width="7.00" height="2.00"/></g>
<g fill="#000" font-family="'Liberation Sans', sans-serif"><text x="65.3" y="532.7" text-anchor="end" font-size="23">10</text>
<text x="67.0" y="514.5" font-size="23">2</text>
<text x="181.2" y="662.0" text-anchor="middle" font-size="23">10</text>
<text x="194.8" y="643.0" font-size="23">2</text>
<text x="65.3" y="386.4" text-anchor="end" font-size="23">10</text>
<text x="67.0" y="368.2" font-size="23">3</text>
<text x="327.4" y="662.0" text-anchor="middle" font-size="23">10</text>
<text x="341.0" y="643.0" font-size="23">3</text>
<text x="65.3" y="240.2" text-anchor="end" font-size="23">10</text>
<text x="67.0" y="222.0" font-size="23">4</text>
<text x="473.6" y="662.0" text-anchor="middle" font-size="23">10</text>
<text x="487.2" y="643.0" font-size="23">4</text>
<text x="65.3" y="94.0" text-anchor="end" font-size="23">10</text>
<text x="67.0" y="75.8" font-size="23">5</text>
<text x="619.9" y="662.0" text-anchor="middle" font-size="23">10</text>
<text x="633.5" y="643.0" font-size="23">5</text>
<text x="0.5" y="26.9" font-size="37.5">A</text>
<text x="392" y="710.1" text-anchor="middle" font-size="27.5">FITC-A</text>
<text transform="translate(24.3 303.8) rotate(-90)" text-anchor="middle" font-size="27.5">PI-A</text>
<text x="116.3" y="68.8" font-size="27.5">Q1</text>
<text x="116.3" y="110.0" font-size="27.5">0.038</text>
<text x="634.3" y="68.8" text-anchor="end" font-size="27.5">Q2</text>
<text x="633" y="110.0" text-anchor="end" font-size="27.5">1.15</text>
<text x="116.3" y="521.8" font-size="27.5">Q4</text>
<text x="116.3" y="562.1" font-size="27.5">92.4</text>
<text x="634.3" y="521.8" text-anchor="end" font-size="27.5">Q3</text>
<text x="633" y="562.1" text-anchor="end" font-size="27.5">6.37</text></g>
<g transform="translate(107.0 737.0) scale(2.25)"><path fill="#f00" d="M143 73h1v1h-1zM151 84h1v1h-1zM100 86h1v1h-1zM160 88h1v1h-1zM175 88h1v1h-1zM190 88h1v1h-1zM129 90h1v1h-1zM138 94h1v1h-1zM192 94h1v1h-1zM206 95h1v1h-1zM139 98h1v1h-1zM98 99h1v1h-1zM201 101h1v1h-1zM133 102h1v1h-1zM141 102h1v1h-1zM156 103h1v1h-1zM80 104h1v1h-1zM80 105h1v1h-1zM132 108h1v1h-1zM164 108h1v1h-1zM157 109h1v1h-1zM151 110h1v1h-1zM109 112h1v1h-1zM150 112h1v1h-1zM122 113h1v1h-1zM99 114h1v1h-1zM179 116h1v1h-1zM133 117h1v1h-1zM152 118h1v1h-1zM160 118h1v1h-1zM179 118h1v1h-1zM149 119h1v1h-1zM138 121h1v1h-1zM196 121h1v1h-1zM111 122h1v1h-1zM127 122h2v1h-2zM152 122h1v1h-1zM177 122h1v1h-1zM110 124h1v1h-1zM154 124h1v1h-1zM162 125h1v1h-1zM169 125h1v1h-1zM158 126h1v1h-1zM139 127h1v1h-1zM137 128h1v1h-1zM153 128h1v1h-1zM156 128h1v1h-1zM163 128h1v1h-1zM87 129h1v1h-1zM137 130h1v1h-1zM162 130h1v1h-1zM164 131h1v1h-1zM124 132h1v1h-1zM135 132h1v1h-1zM142 132h2v1h-2zM162 132h1v1h-1zM77 133h1v1h-1zM121 133h1v1h-1zM140 133h1v1h-1zM162 133h1v1h-1zM129 135h1v1h-1zM136 135h1v1h-1zM166 135h1v1h-1zM91 136h1v1h-1zM120 136h1v1h-1zM142 136h1v1h-1zM146 136h1v1h-1zM152 136h1v1h-1zM206 136h1v1h-1zM134 137h1v1h-1zM138 137h1v1h-1zM146 137h1v1h-1zM162 137h1v1h-1zM183 137h1v1h-1zM59 138h1v1h-1zM132 138h1v1h-1zM140 138h1v1h-1zM175 138h1v1h-1zM92 139h1v1h-1zM101 139h1v1h-1zM136 139h1v1h-1zM145 139h1v1h-1zM147 139h1v1h-1zM126 140h1v1h-1zM133 140h1v1h-1zM140 140h1v1h-1zM179 140h1v1h-1zM122 141h1v1h-1zM125 141h1v1h-1zM131 141h1v1h-1zM137 141h1v1h-1zM142 141h1v1h-1zM156 141h1v1h-1zM167 141h3v1h-3zM193 141h1v1h-1zM129 142h1v1h-1zM143 142h1v1h-1zM157 142h1v1h-1zM160 142h1v1h-1zM164 142h1v1h-1zM185 142h1v1h-1zM80 143h1v1h-1zM106 143h1v1h-1zM123 143h1v1h-1zM125 143h1v1h-1zM131 143h1v1h-1zM145 143h1v1h-1zM157 143h1v1h-1zM102 144h1v1h-1zM115 144h1v1h-1zM124 144h1v1h-1zM126 144h1v1h-1zM134 144h1v1h-1zM139 144h1v1h-1zM141 144h1v1h-1zM146 144h1v1h-1zM149 144h1v1h-1zM151 144h1v1h-1zM158 144h1v1h-1zM173 144h1v1h-1zM90 145h1v1h-1zM126 145h1v1h-1zM134 145h1v1h-1zM136 145h1v1h-1zM158 145h1v1h-1zM176 145h1v1h-1zM134 146h1v1h-1zM139 146h1v1h-1zM141 146h1v1h-1zM146 146h1v1h-1zM150 146h1v1h-1zM160 146h1v1h-1zM163 146h1v1h-1zM165 146h1v1h-1zM190 146h1v1h-1zM202 146h1v1h-1zM94 147h1v1h-1zM124 147h1v1h-1zM126 147h2v1h-2zM148 147h1v1h-1zM159 147h1v1h-1zM173 147h1v1h-1zM181 147h1v1h-1zM127 148h1v1h-1zM136 148h1v1h-1zM138 148h1v1h-1zM140 148h1v1h-1zM169 148h1v1h-1zM92 149h1v1h-1zM107 149h1v1h-1zM117 149h1v1h-1zM119 149h1v1h-1zM121 149h1v1h-1zM145 149h1v1h-1zM165 149h1v1h-1zM179 149h1v1h-1zM110 150h1v1h-1zM112 150h2v1h-2zM126 150h1v1h-1zM135 150h1v1h-1zM151 150h1v1h-1zM157 150h1v1h-1zM163 150h1v1h-1zM175 150h1v1h-1zM108 151h1v1h-1zM121 151h1v1h-1zM124 151h1v1h-1zM143 151h1v1h-1zM123 152h1v1h-1zM129 152h1v1h-1zM139 152h1v1h-1zM156 152h1v1h-1zM160 152h1v1h-1zM163 152h1v1h-1zM189 152h1v1h-1zM118 153h1v1h-1zM125 153h1v1h-1zM135 153h2v1h-2zM152 153h1v1h-1zM154 153h1v1h-1zM160 153h1v1h-1zM172 153h1v1h-1zM107 154h1v1h-1zM116 154h1v1h-1zM137 154h1v1h-1zM145 154h1v1h-1zM152 154h1v1h-1zM161 154h1v1h-1zM163 154h1v1h-1zM169 154h1v1h-1zM171 154h1v1h-1zM128 155h1v1h-1zM138 155h3v1h-3zM144 155h1v1h-1zM154 155h1v1h-1zM172 155h1v1h-1zM110 156h1v1h-1zM112 156h1v1h-1zM146 156h1v1h-1zM192 156h1v1h-1zM64 157h1v1h-1zM120 157h1v1h-1zM139 157h1v1h-1zM141 157h1v1h-1zM166 157h1v1h-1zM175 157h1v1h-1zM128 158h1v1h-1zM133 158h1v1h-1zM142 158h1v1h-1zM128 159h1v1h-1zM147 159h1v1h-1zM180 159h1v1h-1zM219 160h1v1h-1zM149 161h1v1h-1zM151 161h1v1h-1zM152 163h1v1h-1zM139 165h1v1h-1zM158 165h1v1h-1zM142 166h1v1h-1zM138 167h1v1h-1zM162 167h1v1h-1zM93 168h2v1h-2zM123 168h1v1h-1zM53 169h1v1h-1zM115 169h1v1h-1zM129 169h1v1h-1zM148 169h1v1h-1zM55 170h1v1h-1zM90 170h1v1h-1zM120 170h1v1h-1zM141 170h1v1h-1zM115 171h1v1h-1zM119 171h1v1h-1zM138 171h1v1h-1zM143 171h1v1h-1zM97 172h1v1h-1zM125 172h1v1h-1zM141 172h1v1h-1zM146 172h1v1h-1zM150 172h1v1h-1zM43 173h1v1h-1zM106 173h1v1h-1zM129 173h1v1h-1zM145 173h1v1h-1zM148 173h1v1h-1zM152 173h1v1h-1zM139 174h1v1h-1zM123 175h1v1h-1zM133 175h1v1h-1zM71 176h1v1h-1zM130 176h1v1h-1zM142 176h1v1h-1zM145 176h2v1h-2zM108 177h1v1h-1zM122 177h1v1h-1zM134 177h1v1h-1zM140 177h1v1h-1zM164 177h1v1h-1zM14 178h1v1h-1zM63 178h1v1h-1zM87 178h1v1h-1zM95 178h1v1h-1zM118 178h1v1h-1zM121 178h1v1h-1zM150 178h1v1h-1zM164 178h1v1h-1zM200 178h1v1h-1zM36 179h1v1h-1zM53 179h1v1h-1zM95 179h1v1h-1zM98 179h1v1h-1zM124 179h1v1h-1zM132 179h1v1h-1zM138 179h1v1h-1zM140 179h1v1h-1zM165 179h1v1h-1zM140 180h1v1h-1zM41 181h1v1h-1zM49 181h1v1h-1zM54 181h1v1h-1zM79 181h1v1h-1zM89 181h2v1h-2zM92 181h1v1h-1zM112 181h1v1h-1zM130 181h1v1h-1zM134 181h1v1h-1zM161 181h1v1h-1zM34 182h1v1h-1zM48 182h1v1h-1zM50 182h1v1h-1zM57 182h1v1h-1zM67 182h2v1h-2zM74 182h2v1h-2zM78 182h1v1h-1zM88 182h2v1h-2zM97 182h1v1h-1zM99 182h2v1h-2zM119 182h3v1h-3zM123 182h1v1h-1zM128 182h2v1h-2zM138 182h1v1h-1zM152 182h1v1h-1zM159 182h2v1h-2zM184 182h1v1h-1zM15 183h1v1h-1zM22 183h1v1h-1zM43 183h1v1h-1zM51 183h1v1h-1zM61 183h1v1h-1zM69 183h1v1h-1zM74 183h2v1h-2zM84 183h1v1h-1zM92 183h2v1h-2zM99 183h1v1h-1zM112 183h1v1h-1zM120 183h2v1h-2zM154 183h2v1h-2zM164 183h1v1h-1zM0 184h1v1h-1zM7 184h1v1h-1zM21 184h1v1h-1zM57 184h1v1h-1zM70 184h2v1h-2zM80 184h2v1h-2zM94 184h1v1h-1zM102 184h1v1h-1zM114 184h1v1h-1zM116 184h1v1h-1zM121 184h1v1h-1zM123 184h1v1h-1zM138 184h2v1h-2zM166 184h1v1h-1zM173 184h1v1h-1zM187 184h1v1h-1zM204 184h1v1h-1zM18 185h1v1h-1zM22 185h1v1h-1zM34 185h1v1h-1zM56 185h2v1h-2zM62 185h2v1h-2zM65 185h1v1h-1zM82 185h1v1h-1zM88 185h1v1h-1zM91 185h1v1h-1zM94 185h1v1h-1zM98 185h1v1h-1zM109 185h3v1h-3zM115 185h1v1h-1zM119 185h1v1h-1zM123 185h1v1h-1zM128 185h1v1h-1zM139 185h1v1h-1zM150 185h1v1h-1zM35 186h1v1h-1zM42 186h1v1h-1zM54 186h1v1h-1zM56 186h1v1h-1zM58 186h1v1h-1zM66 186h1v1h-1zM68 186h1v1h-1zM76 186h1v1h-1zM78 186h2v1h-2zM84 186h1v1h-1zM88 186h2v1h-2zM96 186h2v1h-2zM102 186h1v1h-1zM112 186h1v1h-1zM118 186h2v1h-2zM122 186h3v1h-3zM128 186h1v1h-1zM132 186h1v1h-1zM138 186h1v1h-1zM4 187h1v1h-1zM11 187h1v1h-1zM14 187h1v1h-1zM21 187h1v1h-1zM24 187h1v1h-1zM32 187h1v1h-1zM45 187h1v1h-1zM48 187h1v1h-1zM55 187h1v1h-1zM57 187h1v1h-1zM67 187h1v1h-1zM69 187h2v1h-2zM75 187h1v1h-1zM77 187h1v1h-1zM80 187h1v1h-1zM83 187h2v1h-2zM87 187h1v1h-1zM98 187h1v1h-1zM101 187h1v1h-1zM103 187h1v1h-1zM109 187h1v1h-1zM111 187h2v1h-2zM115 187h2v1h-2zM122 187h1v1h-1zM131 187h1v1h-1zM174 187h1v1h-1zM211 187h1v1h-1zM18 188h1v1h-1zM35 188h1v1h-1zM40 188h3v1h-3zM45 188h1v1h-1zM55 188h2v1h-2zM59 188h1v1h-1zM61 188h2v1h-2zM64 188h1v1h-1zM68 188h1v1h-1zM75 188h1v1h-1zM77 188h1v1h-1zM81 188h1v1h-1zM84 188h1v1h-1zM91 188h1v1h-1zM98 188h1v1h-1zM104 188h1v1h-1zM112 188h1v1h-1zM118 188h1v1h-1zM124 188h1v1h-1zM131 188h2v1h-2zM150 188h1v1h-1zM202 188h1v1h-1zM0 189h1v1h-1zM8 189h1v1h-1zM18 189h1v1h-1zM28 189h1v1h-1zM30 189h3v1h-3zM34 189h1v1h-1zM62 189h1v1h-1zM65 189h2v1h-2zM69 189h1v1h-1zM73 189h1v1h-1zM76 189h1v1h-1zM80 189h2v1h-2zM86 189h1v1h-1zM88 189h1v1h-1zM92 189h1v1h-1zM94 189h1v1h-1zM96 189h1v1h-1zM99 189h3v1h-3zM108 189h1v1h-1zM110 189h1v1h-1zM122 189h3v1h-3zM131 189h1v1h-1zM133 189h1v1h-1zM140 189h1v1h-1zM147 189h1v1h-1zM153 189h1v1h-1zM164 189h1v1h-1zM0 190h1v1h-1zM25 190h1v1h-1zM28 190h2v1h-2zM39 190h1v1h-1zM42 190h1v1h-1zM50 190h1v1h-1zM55 190h1v1h-1zM57 190h3v1h-3zM61 190h1v1h-1zM66 190h3v1h-3zM70 190h1v1h-1zM72 190h1v1h-1zM74 190h2v1h-2zM79 190h2v1h-2zM85 190h2v1h-2zM95 190h1v1h-1zM99 190h1v1h-1zM102 190h2v1h-2zM106 190h2v1h-2zM115 190h1v1h-1zM120 190h2v1h-2zM131 190h1v1h-1zM133 190h2v1h-2zM136 190h1v1h-1zM0 191h1v1h-1zM16 191h1v1h-1zM20 191h1v1h-1zM26 191h1v1h-1zM28 191h1v1h-1zM31 191h1v1h-1zM37 191h1v1h-1zM40 191h1v1h-1zM46 191h3v1h-3zM51 191h2v1h-2zM55 191h1v1h-1zM57 191h1v1h-1zM60 191h1v1h-1zM62 191h1v1h-1zM64 191h1v1h-1zM66 191h1v1h-1zM68 191h3v1h-3zM77 191h1v1h-1zM83 191h3v1h-3zM88 191h1v1h-1zM92 191h1v1h-1zM97 191h1v1h-1zM102 191h1v1h-1zM107 191h1v1h-1zM110 191h2v1h-2zM113 191h1v1h-1zM121 191h1v1h-1zM123 191h1v1h-1zM125 191h1v1h-1zM128 191h1v1h-1zM131 191h1v1h-1zM134 191h1v1h-1zM136 191h1v1h-1zM158 191h1v1h-1zM21 192h1v1h-1zM29 192h1v1h-1zM31 192h2v1h-2zM36 192h1v1h-1zM43 192h2v1h-2zM48 192h1v1h-1zM51 192h1v1h-1zM53 192h5v1h-5zM60 192h2v1h-2zM63 192h1v1h-1zM66 192h5v1h-5zM72 192h1v1h-1zM75 192h2v1h-2zM82 192h1v1h-1zM84 192h1v1h-1zM91 192h2v1h-2zM96 192h1v1h-1zM98 192h4v1h-4zM105 192h2v1h-2zM113 192h1v1h-1zM116 192h1v1h-1zM119 192h1v1h-1zM122 192h1v1h-1zM130 192h1v1h-1zM133 192h1v1h-1zM137 192h1v1h-1zM153 192h1v1h-1zM8 193h1v1h-1zM18 193h3v1h-3zM22 193h2v1h-2zM27 193h1v1h-1zM29 193h1v1h-1zM32 193h4v1h-4zM37 193h7v1h-7zM47 193h1v1h-1zM50 193h1v1h-1zM52 193h2v1h-2zM55 193h7v1h-7zM63 193h9v1h-9zM79 193h1v1h-1zM81 193h1v1h-1zM88 193h4v1h-4zM93 193h3v1h-3zM98 193h1v1h-1zM100 193h1v1h-1zM102 193h2v1h-2zM105 193h1v1h-1zM107 193h4v1h-4zM112 193h3v1h-3zM125 193h1v1h-1zM133 193h1v1h-1zM147 193h1v1h-1zM196 193h1v1h-1zM11 194h1v1h-1zM14 194h1v1h-1zM17 194h1v1h-1zM25 194h3v1h-3zM29 194h1v1h-1zM31 194h3v1h-3zM35 194h2v1h-2zM38 194h2v1h-2zM41 194h2v1h-2zM46 194h3v1h-3zM50 194h1v1h-1zM57 194h2v1h-2zM62 194h1v1h-1zM64 194h3v1h-3zM68 194h2v1h-2zM71 194h6v1h-6zM78 194h2v1h-2zM85 194h1v1h-1zM87 194h2v1h-2zM91 194h1v1h-1zM95 194h1v1h-1zM97 194h1v1h-1zM99 194h1v1h-1zM102 194h1v1h-1zM104 194h1v1h-1zM106 194h1v1h-1zM114 194h3v1h-3zM118 194h1v1h-1zM121 194h1v1h-1zM123 194h1v1h-1zM128 194h1v1h-1zM131 194h1v1h-1zM136 194h1v1h-1zM139 194h2v1h-2zM142 194h1v1h-1zM145 194h2v1h-2zM191 194h1v1h-1zM8 195h1v1h-1zM14 195h3v1h-3zM22 195h2v1h-2zM26 195h2v1h-2zM31 195h6v1h-6zM38 195h4v1h-4zM44 195h1v1h-1zM47 195h1v1h-1zM51 195h1v1h-1zM53 195h1v1h-1zM55 195h1v1h-1zM57 195h2v1h-2zM60 195h1v1h-1zM63 195h3v1h-3zM67 195h5v1h-5zM80 195h1v1h-1zM83 195h1v1h-1zM85 195h1v1h-1zM87 195h5v1h-5zM93 195h1v1h-1zM95 195h1v1h-1zM101 195h6v1h-6zM111 195h3v1h-3zM118 195h1v1h-1zM122 195h1v1h-1zM124 195h4v1h-4zM134 195h2v1h-2zM142 195h1v1h-1zM144 195h1v1h-1zM165 195h1v1h-1zM0 196h1v1h-1zM7 196h1v1h-1zM9 196h2v1h-2zM12 196h1v1h-1zM22 196h1v1h-1zM24 196h1v1h-1zM28 196h1v1h-1zM30 196h1v1h-1zM34 196h1v1h-1zM38 196h2v1h-2zM41 196h2v1h-2zM45 196h6v1h-6zM52 196h2v1h-2zM56 196h1v1h-1zM58 196h1v1h-1zM62 196h1v1h-1zM64 196h3v1h-3zM68 196h2v1h-2zM71 196h2v1h-2zM76 196h3v1h-3zM80 196h1v1h-1zM83 196h3v1h-3zM87 196h2v1h-2zM91 196h2v1h-2zM97 196h1v1h-1zM100 196h3v1h-3zM105 196h2v1h-2zM114 196h1v1h-1zM116 196h2v1h-2zM120 196h1v1h-1zM123 196h1v1h-1zM125 196h1v1h-1zM127 196h1v1h-1zM130 196h2v1h-2zM137 196h2v1h-2zM141 196h1v1h-1zM147 196h1v1h-1zM155 196h1v1h-1zM167 196h2v1h-2zM0 197h1v1h-1zM4 197h1v1h-1zM14 197h1v1h-1zM16 197h1v1h-1zM19 197h1v1h-1zM24 197h1v1h-1zM28 197h4v1h-4zM34 197h1v1h-1zM37 197h4v1h-4zM42 197h7v1h-7zM50 197h10v1h-10zM61 197h2v1h-2zM64 197h4v1h-4zM69 197h4v1h-4zM74 197h1v1h-1zM77 197h1v1h-1zM80 197h1v1h-1zM82 197h3v1h-3zM87 197h4v1h-4zM92 197h1v1h-1zM94 197h3v1h-3zM98 197h2v1h-2zM104 197h1v1h-1zM106 197h1v1h-1zM109 197h2v1h-2zM112 197h1v1h-1zM114 197h1v1h-1zM121 197h1v1h-1zM124 197h1v1h-1zM126 197h1v1h-1zM129 197h1v1h-1zM132 197h1v1h-1zM134 197h2v1h-2zM143 197h1v1h-1zM151 197h1v1h-1zM0 198h1v1h-1zM4 198h1v1h-1zM7 198h4v1h-4zM13 198h2v1h-2zM20 198h1v1h-1zM22 198h1v1h-1zM24 198h4v1h-4zM29 198h3v1h-3zM34 198h1v1h-1zM36 198h2v1h-2zM40 198h1v1h-1zM42 198h1v1h-1zM44 198h4v1h-4zM50 198h9v1h-9zM60 198h3v1h-3zM64 198h1v1h-1zM66 198h5v1h-5zM72 198h3v1h-3zM77 198h5v1h-5zM83 198h2v1h-2zM86 198h1v1h-1zM89 198h1v1h-1zM92 198h1v1h-1zM103 198h4v1h-4zM111 198h2v1h-2zM120 198h3v1h-3zM126 198h1v1h-1zM131 198h1v1h-1zM136 198h1v1h-1zM139 198h1v1h-1zM141 198h1v1h-1zM145 198h1v1h-1zM153 198h1v1h-1zM168 198h1v1h-1zM1 199h1v1h-1zM7 199h1v1h-1zM14 199h1v1h-1zM17 199h1v1h-1zM21 199h3v1h-3zM26 199h1v1h-1zM28 199h6v1h-6zM39 199h3v1h-3zM44 199h3v1h-3zM48 199h1v1h-1zM50 199h2v1h-2zM56 199h4v1h-4zM61 199h2v1h-2zM64 199h3v1h-3zM68 199h6v1h-6zM75 199h5v1h-5zM82 199h1v1h-1zM84 199h3v1h-3zM89 199h2v1h-2zM92 199h1v1h-1zM94 199h1v1h-1zM96 199h3v1h-3zM101 199h2v1h-2zM104 199h2v1h-2zM110 199h2v1h-2zM113 199h1v1h-1zM116 199h2v1h-2zM121 199h1v1h-1zM129 199h1v1h-1zM136 199h1v1h-1zM142 199h1v1h-1zM146 199h1v1h-1zM162 199h2v1h-2zM170 199h1v1h-1zM8 200h1v1h-1zM12 200h6v1h-6zM20 200h1v1h-1zM22 200h1v1h-1zM24 200h4v1h-4zM29 200h1v1h-1zM33 200h9v1h-9zM43 200h4v1h-4zM48 200h5v1h-5zM54 200h7v1h-7zM62 200h3v1h-3zM67 200h2v1h-2zM70 200h3v1h-3zM74 200h3v1h-3zM79 200h2v1h-2zM83 200h1v1h-1zM85 200h1v1h-1zM88 200h7v1h-7zM99 200h2v1h-2zM105 200h1v1h-1zM112 200h2v1h-2zM117 200h1v1h-1zM124 200h2v1h-2zM131 200h3v1h-3zM135 200h1v1h-1zM137 200h1v1h-1zM141 200h1v1h-1zM144 200h1v1h-1zM148 200h1v1h-1zM161 200h1v1h-1zM163 200h1v1h-1zM1 201h1v1h-1zM4 201h1v1h-1zM11 201h3v1h-3zM15 201h1v1h-1zM17 201h1v1h-1zM22 201h2v1h-2zM25 201h1v1h-1zM27 201h5v1h-5zM33 201h4v1h-4zM38 201h1v1h-1zM41 201h7v1h-7zM49 201h19v1h-19zM69 201h3v1h-3zM73 201h1v1h-1zM75 201h7v1h-7zM84 201h1v1h-1zM87 201h1v1h-1zM89 201h6v1h-6zM96 201h1v1h-1zM100 201h1v1h-1zM102 201h2v1h-2zM107 201h2v1h-2zM110 201h1v1h-1zM113 201h1v1h-1zM115 201h2v1h-2zM120 201h1v1h-1zM122 201h2v1h-2zM130 201h2v1h-2zM135 201h1v1h-1zM138 201h1v1h-1zM150 201h1v1h-1zM167 201h1v1h-1zM4 202h1v1h-1zM10 202h1v1h-1zM12 202h2v1h-2zM15 202h1v1h-1zM20 202h7v1h-7zM28 202h2v1h-2zM31 202h4v1h-4zM37 202h11v1h-11zM49 202h12v1h-12zM62 202h4v1h-4zM67 202h5v1h-5zM74 202h3v1h-3zM78 202h1v1h-1zM80 202h1v1h-1zM82 202h2v1h-2zM89 202h1v1h-1zM91 202h3v1h-3zM97 202h4v1h-4zM104 202h1v1h-1zM107 202h4v1h-4zM112 202h2v1h-2zM115 202h7v1h-7zM124 202h1v1h-1zM126 202h4v1h-4zM133 202h1v1h-1zM5 203h2v1h-2zM17 203h3v1h-3zM21 203h1v1h-1zM23 203h1v1h-1zM25 203h1v1h-1zM27 203h1v1h-1zM30 203h8v1h-8zM39 203h1v1h-1zM41 203h6v1h-6zM48 203h2v1h-2zM51 203h12v1h-12zM64 203h7v1h-7zM72 203h1v1h-1zM74 203h1v1h-1zM76 203h4v1h-4zM82 203h4v1h-4zM87 203h1v1h-1zM90 203h1v1h-1zM93 203h6v1h-6zM100 203h1v1h-1zM103 203h1v1h-1zM105 203h2v1h-2zM114 203h2v1h-2zM117 203h3v1h-3zM122 203h1v1h-1zM124 203h1v1h-1zM130 203h1v1h-1zM133 203h1v1h-1zM135 203h1v1h-1zM150 203h2v1h-2zM164 203h1v1h-1zM5 204h1v1h-1zM10 204h1v1h-1zM15 204h1v1h-1zM17 204h3v1h-3zM21 204h1v1h-1zM23 204h1v1h-1zM25 204h2v1h-2zM28 204h7v1h-7zM36 204h1v1h-1zM38 204h31v1h-31zM70 204h10v1h-10zM81 204h4v1h-4zM88 204h1v1h-1zM90 204h2v1h-2zM93 204h2v1h-2zM96 204h2v1h-2zM100 204h1v1h-1zM103 204h3v1h-3zM107 204h1v1h-1zM109 204h1v1h-1zM111 204h1v1h-1zM113 204h1v1h-1zM118 204h2v1h-2zM122 204h1v1h-1zM124 204h1v1h-1zM131 204h1v1h-1zM135 204h1v1h-1zM139 204h1v1h-1zM150 204h1v1h-1zM160 204h1v1h-1zM0 205h2v1h-2zM4 205h1v1h-1zM6 205h1v1h-1zM8 205h1v1h-1zM11 205h5v1h-5zM17 205h1v1h-1zM20 205h1v1h-1zM24 205h1v1h-1zM27 205h2v1h-2zM30 205h8v1h-8zM39 205h1v1h-1zM41 205h1v1h-1zM43 205h2v1h-2zM46 205h11v1h-11zM58 205h16v1h-16zM75 205h1v1h-1zM77 205h7v1h-7zM85 205h3v1h-3zM89 205h4v1h-4zM95 205h2v1h-2zM100 205h1v1h-1zM104 205h1v1h-1zM108 205h1v1h-1zM110 205h3v1h-3zM114 205h1v1h-1zM116 205h1v1h-1zM118 205h3v1h-3zM131 205h2v1h-2zM137 205h1v1h-1zM143 205h1v1h-1zM206 205h1v1h-1zM0 206h2v1h-2zM3 206h2v1h-2zM10 206h3v1h-3zM15 206h1v1h-1zM18 206h3v1h-3zM25 206h2v1h-2zM28 206h5v1h-5zM34 206h3v1h-3zM38 206h2v1h-2zM41 206h23v1h-23zM66 206h6v1h-6zM73 206h6v1h-6zM80 206h1v1h-1zM82 206h1v1h-1zM84 206h3v1h-3zM90 206h1v1h-1zM94 206h1v1h-1zM96 206h3v1h-3zM100 206h1v1h-1zM102 206h3v1h-3zM106 206h1v1h-1zM110 206h2v1h-2zM115 206h1v1h-1zM121 206h2v1h-2zM127 206h2v1h-2zM154 206h1v1h-1zM164 206h1v1h-1zM2 207h1v1h-1zM4 207h1v1h-1zM8 207h1v1h-1zM12 207h6v1h-6zM19 207h3v1h-3zM23 207h3v1h-3zM27 207h6v1h-6zM34 207h3v1h-3zM38 207h5v1h-5zM44 207h17v1h-17zM62 207h17v1h-17zM80 207h2v1h-2zM83 207h1v1h-1zM85 207h1v1h-1zM87 207h3v1h-3zM91 207h2v1h-2zM96 207h2v1h-2zM99 207h1v1h-1zM102 207h1v1h-1zM104 207h1v1h-1zM107 207h2v1h-2zM110 207h1v1h-1zM112 207h2v1h-2zM115 207h4v1h-4zM120 207h1v1h-1zM135 207h2v1h-2zM140 207h3v1h-3zM144 207h1v1h-1zM150 207h1v1h-1zM166 207h1v1h-1zM0 208h2v1h-2zM5 208h1v1h-1zM7 208h1v1h-1zM9 208h2v1h-2zM12 208h5v1h-5zM22 208h5v1h-5zM28 208h5v1h-5zM34 208h31v1h-31zM66 208h9v1h-9zM76 208h5v1h-5zM82 208h3v1h-3zM86 208h2v1h-2zM91 208h4v1h-4zM96 208h6v1h-6zM105 208h2v1h-2zM108 208h2v1h-2zM111 208h1v1h-1zM116 208h1v1h-1zM118 208h3v1h-3zM123 208h1v1h-1zM126 208h1v1h-1zM140 208h3v1h-3zM163 208h1v1h-1zM0 209h1v1h-1zM6 209h1v1h-1zM9 209h2v1h-2zM12 209h7v1h-7zM20 209h1v1h-1zM22 209h3v1h-3zM27 209h4v1h-4zM32 209h1v1h-1zM34 209h2v1h-2zM37 209h40v1h-40zM79 209h2v1h-2zM82 209h2v1h-2zM85 209h1v1h-1zM87 209h2v1h-2zM94 209h1v1h-1zM96 209h1v1h-1zM102 209h1v1h-1zM104 209h1v1h-1zM106 209h1v1h-1zM111 209h2v1h-2zM115 209h1v1h-1zM117 209h1v1h-1zM119 209h1v1h-1zM122 209h1v1h-1zM125 209h1v1h-1zM127 209h1v1h-1zM134 209h1v1h-1zM143 209h1v1h-1zM146 209h2v1h-2zM150 209h1v1h-1zM185 209h1v1h-1zM5 210h1v1h-1zM7 210h3v1h-3zM12 210h1v1h-1zM18 210h8v1h-8zM27 210h1v1h-1zM29 210h1v1h-1zM31 210h45v1h-45zM77 210h5v1h-5zM84 210h5v1h-5zM90 210h4v1h-4zM95 210h2v1h-2zM98 210h5v1h-5zM104 210h2v1h-2zM107 210h1v1h-1zM110 210h1v1h-1zM112 210h1v1h-1zM114 210h2v1h-2zM117 210h1v1h-1zM121 210h1v1h-1zM126 210h1v1h-1zM130 210h1v1h-1zM133 210h1v1h-1zM151 210h1v1h-1zM153 210h1v1h-1zM157 210h1v1h-1zM0 211h2v1h-2zM4 211h2v1h-2zM8 211h2v1h-2zM15 211h2v1h-2zM19 211h1v1h-1zM21 211h1v1h-1zM24 211h4v1h-4zM30 211h3v1h-3zM34 211h35v1h-35zM70 211h4v1h-4zM75 211h1v1h-1zM77 211h2v1h-2zM81 211h1v1h-1zM83 211h1v1h-1zM88 211h1v1h-1zM90 211h2v1h-2zM93 211h2v1h-2zM97 211h1v1h-1zM99 211h1v1h-1zM102 211h2v1h-2zM106 211h1v1h-1zM109 211h4v1h-4zM114 211h1v1h-1zM121 211h1v1h-1zM132 211h1v1h-1zM140 211h2v1h-2zM152 211h1v1h-1zM3 212h3v1h-3zM8 212h5v1h-5zM14 212h2v1h-2zM19 212h5v1h-5zM25 212h2v1h-2zM28 212h9v1h-9zM39 212h43v1h-43zM84 212h3v1h-3zM88 212h2v1h-2zM91 212h1v1h-1zM94 212h1v1h-1zM98 212h2v1h-2zM101 212h2v1h-2zM105 212h2v1h-2zM108 212h2v1h-2zM112 212h1v1h-1zM114 212h1v1h-1zM134 212h1v1h-1zM153 212h1v1h-1zM156 212h1v1h-1zM191 212h1v1h-1zM1 213h2v1h-2zM6 213h1v1h-1zM8 213h2v1h-2zM11 213h1v1h-1zM15 213h1v1h-1zM17 213h5v1h-5zM23 213h2v1h-2zM26 213h4v1h-4zM31 213h24v1h-24zM56 213h19v1h-19zM76 213h11v1h-11zM88 213h1v1h-1zM90 213h3v1h-3zM95 213h2v1h-2zM98 213h4v1h-4zM103 213h1v1h-1zM106 213h1v1h-1zM109 213h2v1h-2zM113 213h1v1h-1zM117 213h3v1h-3zM121 213h1v1h-1zM124 213h1v1h-1zM127 213h1v1h-1zM132 213h1v1h-1zM142 213h1v1h-1zM148 213h1v1h-1zM157 213h1v1h-1zM2 214h1v1h-1zM6 214h2v1h-2zM9 214h1v1h-1zM11 214h1v1h-1zM13 214h1v1h-1zM15 214h1v1h-1zM17 214h1v1h-1zM19 214h4v1h-4zM26 214h1v1h-1zM28 214h3v1h-3zM33 214h8v1h-8zM42 214h24v1h-24zM67 214h11v1h-11zM79 214h7v1h-7zM88 214h3v1h-3zM92 214h3v1h-3zM96 214h3v1h-3zM102 214h1v1h-1zM104 214h1v1h-1zM107 214h2v1h-2zM110 214h5v1h-5zM116 214h1v1h-1zM134 214h1v1h-1zM142 214h1v1h-1zM157 214h2v1h-2zM4 215h1v1h-1zM6 215h1v1h-1zM14 215h1v1h-1zM16 215h6v1h-6zM23 215h1v1h-1zM25 215h2v1h-2zM28 215h4v1h-4zM33 215h1v1h-1zM35 215h40v1h-40zM76 215h1v1h-1zM78 215h4v1h-4zM84 215h4v1h-4zM89 215h5v1h-5zM95 215h1v1h-1zM97 215h2v1h-2zM100 215h1v1h-1zM102 215h1v1h-1zM109 215h3v1h-3zM115 215h1v1h-1zM124 215h1v1h-1zM126 215h1v1h-1zM152 215h1v1h-1zM158 215h1v1h-1zM0 216h1v1h-1zM4 216h7v1h-7zM13 216h4v1h-4zM18 216h5v1h-5zM24 216h2v1h-2zM27 216h1v1h-1zM32 216h2v1h-2zM37 216h2v1h-2zM40 216h12v1h-12zM53 216h19v1h-19zM73 216h2v1h-2zM76 216h3v1h-3zM80 216h2v1h-2zM84 216h1v1h-1zM86 216h3v1h-3zM91 216h1v1h-1zM93 216h1v1h-1zM95 216h1v1h-1zM97 216h1v1h-1zM100 216h1v1h-1zM102 216h1v1h-1zM105 216h3v1h-3zM109 216h1v1h-1zM111 216h1v1h-1zM114 216h1v1h-1zM122 216h2v1h-2zM125 216h1v1h-1zM138 216h1v1h-1zM141 216h1v1h-1zM150 216h1v1h-1zM152 216h2v1h-2zM0 217h1v1h-1zM4 217h2v1h-2zM8 217h1v1h-1zM10 217h1v1h-1zM13 217h1v1h-1zM15 217h3v1h-3zM19 217h1v1h-1zM21 217h1v1h-1zM23 217h4v1h-4zM28 217h2v1h-2zM31 217h5v1h-5zM37 217h26v1h-26zM64 217h10v1h-10zM75 217h3v1h-3zM79 217h3v1h-3zM84 217h2v1h-2zM88 217h2v1h-2zM91 217h2v1h-2zM94 217h1v1h-1zM101 217h2v1h-2zM104 217h2v1h-2zM110 217h3v1h-3zM118 217h1v1h-1zM121 217h1v1h-1zM126 217h2v1h-2zM140 217h1v1h-1zM150 217h2v1h-2zM158 217h1v1h-1zM2 218h5v1h-5zM10 218h1v1h-1zM16 218h2v1h-2zM19 218h5v1h-5zM25 218h6v1h-6zM33 218h3v1h-3zM37 218h1v1h-1zM39 218h12v1h-12zM52 218h14v1h-14zM67 218h3v1h-3zM71 218h11v1h-11zM84 218h4v1h-4zM89 218h1v1h-1zM91 218h1v1h-1zM93 218h2v1h-2zM96 218h1v1h-1zM101 218h1v1h-1zM103 218h2v1h-2zM107 218h1v1h-1zM110 218h3v1h-3zM115 218h1v1h-1zM121 218h1v1h-1zM128 218h1v1h-1zM134 218h1v1h-1zM139 218h1v1h-1zM152 218h1v1h-1zM156 218h1v1h-1zM163 218h1v1h-1zM0 219h2v1h-2zM7 219h1v1h-1zM10 219h3v1h-3zM15 219h1v1h-1zM17 219h4v1h-4zM22 219h2v1h-2zM26 219h2v1h-2zM30 219h1v1h-1zM33 219h2v1h-2zM36 219h37v1h-37zM74 219h5v1h-5zM80 219h2v1h-2zM83 219h1v1h-1zM85 219h2v1h-2zM88 219h2v1h-2zM93 219h3v1h-3zM98 219h4v1h-4zM103 219h1v1h-1zM109 219h1v1h-1zM111 219h1v1h-1zM116 219h1v1h-1zM119 219h1v1h-1zM121 219h1v1h-1zM123 219h1v1h-1zM130 219h1v1h-1zM133 219h1v1h-1zM135 219h1v1h-1zM145 219h1v1h-1zM147 219h1v1h-1zM151 219h2v1h-2zM0 220h1v1h-1zM2 220h1v1h-1zM4 220h1v1h-1zM7 220h2v1h-2zM11 220h3v1h-3zM16 220h2v1h-2zM19 220h1v1h-1zM21 220h2v1h-2zM24 220h1v1h-1zM27 220h42v1h-42zM70 220h3v1h-3zM75 220h3v1h-3zM81 220h1v1h-1zM83 220h4v1h-4zM89 220h4v1h-4zM95 220h7v1h-7zM103 220h1v1h-1zM105 220h2v1h-2zM113 220h1v1h-1zM123 220h2v1h-2zM126 220h2v1h-2zM133 220h1v1h-1zM148 220h1v1h-1zM151 220h1v1h-1zM155 220h2v1h-2zM0 221h1v1h-1zM2 221h1v1h-1zM5 221h2v1h-2zM9 221h1v1h-1zM11 221h2v1h-2zM14 221h1v1h-1zM18 221h2v1h-2zM22 221h2v1h-2zM25 221h1v1h-1zM28 221h3v1h-3zM33 221h1v1h-1zM35 221h5v1h-5zM41 221h36v1h-36zM78 221h1v1h-1zM80 221h3v1h-3zM84 221h1v1h-1zM87 221h2v1h-2zM90 221h1v1h-1zM92 221h4v1h-4zM98 221h1v1h-1zM100 221h2v1h-2zM109 221h1v1h-1zM111 221h1v1h-1zM117 221h1v1h-1zM119 221h1v1h-1zM121 221h1v1h-1zM129 221h1v1h-1zM134 221h1v1h-1zM136 221h1v1h-1zM145 221h1v1h-1zM3 222h1v1h-1zM10 222h2v1h-2zM14 222h1v1h-1zM17 222h3v1h-3zM23 222h1v1h-1zM25 222h3v1h-3zM30 222h1v1h-1zM32 222h1v1h-1zM34 222h5v1h-5zM40 222h1v1h-1zM42 222h25v1h-25zM68 222h6v1h-6zM77 222h5v1h-5zM85 222h2v1h-2zM88 222h1v1h-1zM90 222h2v1h-2zM93 222h2v1h-2zM101 222h1v1h-1zM103 222h1v1h-1zM107 222h2v1h-2zM111 222h1v1h-1zM127 222h2v1h-2zM131 222h1v1h-1zM141 222h1v1h-1zM0 223h1v1h-1zM7 223h2v1h-2zM10 223h3v1h-3zM14 223h1v1h-1zM18 223h1v1h-1zM20 223h1v1h-1zM23 223h1v1h-1zM25 223h8v1h-8zM34 223h1v1h-1zM36 223h2v1h-2zM40 223h28v1h-28zM69 223h3v1h-3zM73 223h6v1h-6zM81 223h4v1h-4zM86 223h1v1h-1zM88 223h1v1h-1zM91 223h2v1h-2zM94 223h1v1h-1zM96 223h2v1h-2zM101 223h2v1h-2zM104 223h1v1h-1zM108 223h3v1h-3zM113 223h1v1h-1zM115 223h1v1h-1zM118 223h1v1h-1zM122 223h1v1h-1zM129 223h1v1h-1zM143 223h1v1h-1zM155 223h1v1h-1zM0 224h1v1h-1zM3 224h1v1h-1zM5 224h1v1h-1zM10 224h5v1h-5zM19 224h1v1h-1zM21 224h5v1h-5zM29 224h1v1h-1zM31 224h2v1h-2zM34 224h3v1h-3zM39 224h16v1h-16zM56 224h5v1h-5zM63 224h5v1h-5zM69 224h6v1h-6zM76 224h3v1h-3zM82 224h2v1h-2zM87 224h1v1h-1zM89 224h1v1h-1zM91 224h1v1h-1zM93 224h4v1h-4zM98 224h1v1h-1zM101 224h1v1h-1zM103 224h1v1h-1zM106 224h1v1h-1zM110 224h1v1h-1zM114 224h1v1h-1zM116 224h1v1h-1zM119 224h1v1h-1zM128 224h1v1h-1zM131 224h1v1h-1zM137 224h1v1h-1zM140 224h2v1h-2zM144 224h1v1h-1zM152 224h1v1h-1zM0 225h2v1h-2zM6 225h1v1h-1zM8 225h1v1h-1zM10 225h3v1h-3zM16 225h1v1h-1zM18 225h3v1h-3zM22 225h2v1h-2zM25 225h1v1h-1zM28 225h2v1h-2zM31 225h1v1h-1zM33 225h2v1h-2zM37 225h18v1h-18zM56 225h10v1h-10zM67 225h1v1h-1zM69 225h4v1h-4zM74 225h4v1h-4zM80 225h2v1h-2zM83 225h1v1h-1zM85 225h1v1h-1zM87 225h3v1h-3zM95 225h1v1h-1zM99 225h1v1h-1zM101 225h1v1h-1zM103 225h2v1h-2zM106 225h1v1h-1zM109 225h1v1h-1zM120 225h1v1h-1zM125 225h1v1h-1zM138 225h1v1h-1zM1 226h1v1h-1zM3 226h1v1h-1zM6 226h1v1h-1zM8 226h2v1h-2zM12 226h2v1h-2zM16 226h1v1h-1zM18 226h2v1h-2zM21 226h2v1h-2zM24 226h2v1h-2zM29 226h1v1h-1zM31 226h2v1h-2zM34 226h2v1h-2zM37 226h24v1h-24zM62 226h4v1h-4zM67 226h1v1h-1zM69 226h1v1h-1zM71 226h2v1h-2zM74 226h1v1h-1zM76 226h2v1h-2zM79 226h2v1h-2zM82 226h8v1h-8zM91 226h3v1h-3zM95 226h2v1h-2zM98 226h1v1h-1zM102 226h2v1h-2zM105 226h1v1h-1zM108 226h1v1h-1zM113 226h1v1h-1zM115 226h1v1h-1zM122 226h1v1h-1zM125 226h1v1h-1zM133 226h1v1h-1zM138 226h1v1h-1zM155 226h1v1h-1zM166 226h1v1h-1zM5 227h1v1h-1zM13 227h1v1h-1zM16 227h3v1h-3zM20 227h2v1h-2zM23 227h2v1h-2zM28 227h1v1h-1zM30 227h1v1h-1zM32 227h1v1h-1zM35 227h2v1h-2zM38 227h20v1h-20zM59 227h13v1h-13zM73 227h1v1h-1zM76 227h3v1h-3zM80 227h1v1h-1zM82 227h3v1h-3zM87 227h1v1h-1zM89 227h4v1h-4zM97 227h2v1h-2zM101 227h1v1h-1zM103 227h1v1h-1zM107 227h1v1h-1zM109 227h2v1h-2zM114 227h1v1h-1zM123 227h1v1h-1zM131 227h1v1h-1zM145 227h1v1h-1zM165 227h1v1h-1zM183 227h1v1h-1zM1 228h1v1h-1zM5 228h2v1h-2zM11 228h1v1h-1zM13 228h3v1h-3zM17 228h1v1h-1zM22 228h2v1h-2zM27 228h4v1h-4zM33 228h3v1h-3zM38 228h24v1h-24zM63 228h1v1h-1zM65 228h3v1h-3zM69 228h4v1h-4zM75 228h4v1h-4zM80 228h1v1h-1zM83 228h2v1h-2zM86 228h2v1h-2zM89 228h1v1h-1zM91 228h1v1h-1zM95 228h2v1h-2zM98 228h1v1h-1zM104 228h1v1h-1zM106 228h1v1h-1zM110 228h2v1h-2zM131 228h1v1h-1zM147 228h1v1h-1zM163 228h1v1h-1zM187 228h1v1h-1zM1 229h1v1h-1zM4 229h1v1h-1zM6 229h3v1h-3zM11 229h1v1h-1zM13 229h2v1h-2zM16 229h2v1h-2zM21 229h3v1h-3zM27 229h2v1h-2zM30 229h5v1h-5zM37 229h2v1h-2zM40 229h28v1h-28zM69 229h1v1h-1zM71 229h1v1h-1zM73 229h2v1h-2zM76 229h5v1h-5zM83 229h3v1h-3zM94 229h1v1h-1zM97 229h2v1h-2zM100 229h1v1h-1zM102 229h1v1h-1zM104 229h1v1h-1zM112 229h1v1h-1zM117 229h1v1h-1zM123 229h1v1h-1zM129 229h1v1h-1zM0 230h1v1h-1zM6 230h2v1h-2zM10 230h2v1h-2zM14 230h1v1h-1zM16 230h1v1h-1zM19 230h3v1h-3zM23 230h6v1h-6zM33 230h3v1h-3zM38 230h4v1h-4zM44 230h19v1h-19zM64 230h3v1h-3zM71 230h3v1h-3zM75 230h2v1h-2zM83 230h1v1h-1zM85 230h1v1h-1zM88 230h3v1h-3zM93 230h1v1h-1zM95 230h1v1h-1zM105 230h1v1h-1zM114 230h2v1h-2zM119 230h1v1h-1zM125 230h1v1h-1zM138 230h1v1h-1zM152 230h1v1h-1zM2 231h2v1h-2zM5 231h2v1h-2zM8 231h1v1h-1zM11 231h1v1h-1zM13 231h1v1h-1zM18 231h5v1h-5zM25 231h1v1h-1zM28 231h4v1h-4zM34 231h6v1h-6zM41 231h14v1h-14zM56 231h9v1h-9zM66 231h3v1h-3zM70 231h1v1h-1zM73 231h3v1h-3zM77 231h2v1h-2zM80 231h1v1h-1zM82 231h2v1h-2zM87 231h3v1h-3zM95 231h1v1h-1zM100 231h1v1h-1zM102 231h1v1h-1zM105 231h2v1h-2zM114 231h2v1h-2zM126 231h1v1h-1zM0 232h1v1h-1zM2 232h2v1h-2zM6 232h3v1h-3zM10 232h1v1h-1zM15 232h4v1h-4zM21 232h2v1h-2zM32 232h1v1h-1zM34 232h2v1h-2zM37 232h3v1h-3zM41 232h20v1h-20zM62 232h4v1h-4zM67 232h2v1h-2zM70 232h1v1h-1zM72 232h5v1h-5zM78 232h8v1h-8zM91 232h1v1h-1zM94 232h1v1h-1zM97 232h1v1h-1zM101 232h1v1h-1zM107 232h1v1h-1zM116 232h1v1h-1zM119 232h1v1h-1zM129 232h1v1h-1zM131 232h2v1h-2zM140 232h1v1h-1zM9 233h2v1h-2zM12 233h1v1h-1zM14 233h2v1h-2zM20 233h2v1h-2zM26 233h1v1h-1zM28 233h4v1h-4zM35 233h3v1h-3zM39 233h2v1h-2zM42 233h4v1h-4zM47 233h12v1h-12zM60 233h2v1h-2zM63 233h3v1h-3zM67 233h1v1h-1zM69 233h1v1h-1zM76 233h2v1h-2zM81 233h1v1h-1zM83 233h2v1h-2zM86 233h2v1h-2zM93 233h1v1h-1zM95 233h1v1h-1zM97 233h1v1h-1zM100 233h1v1h-1zM108 233h1v1h-1zM122 233h2v1h-2zM130 233h1v1h-1zM142 233h2v1h-2zM1 234h4v1h-4zM16 234h3v1h-3zM21 234h3v1h-3zM25 234h1v1h-1zM28 234h5v1h-5zM34 234h2v1h-2zM37 234h4v1h-4zM42 234h9v1h-9zM52 234h19v1h-19zM73 234h3v1h-3zM78 234h1v1h-1zM83 234h3v1h-3zM87 234h3v1h-3zM96 234h1v1h-1zM100 234h1v1h-1zM107 234h1v1h-1zM109 234h2v1h-2zM112 234h1v1h-1zM114 234h2v1h-2zM143 234h1v1h-1zM157 234h1v1h-1zM0 235h1v1h-1zM7 235h2v1h-2zM13 235h1v1h-1zM15 235h2v1h-2zM20 235h1v1h-1zM23 235h1v1h-1zM25 235h2v1h-2zM29 235h1v1h-1zM32 235h1v1h-1zM34 235h4v1h-4zM39 235h3v1h-3zM43 235h1v1h-1zM45 235h2v1h-2zM48 235h6v1h-6zM55 235h6v1h-6zM62 235h1v1h-1zM64 235h1v1h-1zM66 235h3v1h-3zM70 235h3v1h-3zM74 235h8v1h-8zM84 235h2v1h-2zM93 235h1v1h-1zM96 235h1v1h-1zM98 235h1v1h-1zM102 235h1v1h-1zM119 235h1v1h-1zM122 235h1v1h-1zM138 235h1v1h-1zM144 235h1v1h-1zM184 235h1v1h-1zM0 236h1v1h-1zM11 236h2v1h-2zM15 236h1v1h-1zM17 236h2v1h-2zM21 236h2v1h-2zM25 236h1v1h-1zM27 236h3v1h-3zM32 236h2v1h-2zM36 236h1v1h-1zM39 236h20v1h-20zM60 236h2v1h-2zM67 236h1v1h-1zM69 236h2v1h-2zM72 236h4v1h-4zM77 236h2v1h-2zM83 236h1v1h-1zM86 236h1v1h-1zM89 236h1v1h-1zM92 236h1v1h-1zM94 236h1v1h-1zM102 236h1v1h-1zM133 236h1v1h-1zM0 237h1v1h-1zM5 237h1v1h-1zM8 237h1v1h-1zM10 237h1v1h-1zM12 237h1v1h-1zM16 237h3v1h-3zM20 237h3v1h-3zM24 237h1v1h-1zM26 237h1v1h-1zM28 237h3v1h-3zM32 237h3v1h-3zM37 237h1v1h-1zM40 237h4v1h-4zM45 237h1v1h-1zM47 237h4v1h-4zM52 237h4v1h-4zM57 237h5v1h-5zM63 237h2v1h-2zM66 237h3v1h-3zM70 237h8v1h-8zM80 237h1v1h-1zM85 237h3v1h-3zM89 237h1v1h-1zM91 237h1v1h-1zM95 237h1v1h-1zM106 237h2v1h-2zM113 237h1v1h-1zM141 237h1v1h-1zM190 237h1v1h-1zM10 238h1v1h-1zM14 238h1v1h-1zM19 238h1v1h-1zM22 238h2v1h-2zM25 238h1v1h-1zM27 238h2v1h-2zM30 238h1v1h-1zM32 238h5v1h-5zM39 238h1v1h-1zM42 238h2v1h-2zM45 238h3v1h-3zM50 238h4v1h-4zM55 238h2v1h-2zM59 238h2v1h-2zM62 238h3v1h-3zM66 238h6v1h-6zM74 238h3v1h-3zM78 238h2v1h-2zM81 238h1v1h-1zM87 238h1v1h-1zM89 238h1v1h-1zM92 238h3v1h-3zM96 238h1v1h-1zM103 238h2v1h-2zM119 238h1v1h-1zM142 238h1v1h-1zM3 239h2v1h-2zM6 239h1v1h-1zM10 239h2v1h-2zM15 239h2v1h-2zM24 239h1v1h-1zM26 239h4v1h-4zM32 239h2v1h-2zM40 239h4v1h-4zM46 239h6v1h-6zM53 239h4v1h-4zM58 239h1v1h-1zM62 239h2v1h-2zM65 239h1v1h-1zM67 239h4v1h-4zM72 239h1v1h-1zM74 239h2v1h-2zM79 239h1v1h-1zM83 239h3v1h-3zM91 239h1v1h-1zM99 239h1v1h-1zM106 239h2v1h-2zM114 239h1v1h-1zM118 239h1v1h-1zM125 239h1v1h-1zM163 239h1v1h-1zM10 240h1v1h-1zM13 240h1v1h-1zM17 240h1v1h-1zM19 240h1v1h-1zM21 240h2v1h-2zM24 240h3v1h-3zM28 240h2v1h-2zM32 240h2v1h-2zM35 240h7v1h-7zM43 240h1v1h-1zM45 240h1v1h-1zM48 240h3v1h-3zM52 240h3v1h-3zM56 240h1v1h-1zM58 240h8v1h-8zM68 240h1v1h-1zM70 240h2v1h-2zM74 240h1v1h-1zM85 240h2v1h-2zM93 240h1v1h-1zM100 240h1v1h-1zM115 240h1v1h-1zM127 240h1v1h-1zM130 240h1v1h-1zM137 240h1v1h-1zM147 240h1v1h-1zM0 241h1v1h-1zM10 241h2v1h-2zM13 241h1v1h-1zM15 241h1v1h-1zM20 241h1v1h-1zM27 241h5v1h-5zM35 241h2v1h-2zM38 241h7v1h-7zM50 241h6v1h-6zM57 241h5v1h-5zM63 241h1v1h-1zM65 241h3v1h-3zM69 241h1v1h-1zM73 241h1v1h-1zM75 241h1v1h-1zM78 241h2v1h-2zM82 241h1v1h-1zM84 241h1v1h-1zM86 241h1v1h-1zM89 241h1v1h-1zM92 241h1v1h-1zM103 241h1v1h-1zM113 241h1v1h-1zM2 242h1v1h-1zM5 242h1v1h-1zM9 242h3v1h-3zM22 242h2v1h-2zM33 242h3v1h-3zM37 242h2v1h-2zM44 242h2v1h-2zM47 242h5v1h-5zM54 242h4v1h-4zM61 242h3v1h-3zM65 242h2v1h-2zM70 242h1v1h-1zM72 242h4v1h-4zM79 242h1v1h-1zM81 242h2v1h-2zM87 242h1v1h-1zM90 242h1v1h-1zM96 242h1v1h-1zM103 242h1v1h-1zM139 242h1v1h-1zM6 243h1v1h-1zM19 243h1v1h-1zM22 243h2v1h-2zM30 243h1v1h-1zM32 243h1v1h-1zM35 243h1v1h-1zM38 243h2v1h-2zM43 243h1v1h-1zM45 243h1v1h-1zM47 243h2v1h-2zM50 243h1v1h-1zM53 243h2v1h-2zM56 243h2v1h-2zM59 243h2v1h-2zM63 243h6v1h-6zM70 243h1v1h-1zM74 243h1v1h-1zM86 243h1v1h-1zM96 243h1v1h-1zM130 243h1v1h-1zM163 243h1v1h-1zM4 244h1v1h-1zM6 244h1v1h-1zM11 244h3v1h-3zM15 244h1v1h-1zM17 244h1v1h-1zM23 244h1v1h-1zM25 244h2v1h-2zM29 244h1v1h-1zM32 244h2v1h-2zM39 244h2v1h-2zM43 244h3v1h-3zM50 244h1v1h-1zM52 244h7v1h-7zM60 244h1v1h-1zM63 244h5v1h-5zM69 244h1v1h-1zM71 244h2v1h-2zM75 244h4v1h-4zM82 244h1v1h-1zM86 244h1v1h-1zM91 244h1v1h-1zM95 244h1v1h-1zM98 244h1v1h-1zM109 244h1v1h-1zM116 244h1v1h-1zM139 244h1v1h-1zM0 245h1v1h-1zM7 245h1v1h-1zM19 245h1v1h-1zM21 245h1v1h-1zM23 245h1v1h-1zM28 245h3v1h-3zM32 245h3v1h-3zM36 245h1v1h-1zM38 245h1v1h-1zM40 245h1v1h-1zM42 245h1v1h-1zM45 245h1v1h-1zM47 245h5v1h-5zM54 245h3v1h-3zM58 245h2v1h-2zM61 245h1v1h-1zM63 245h2v1h-2zM70 245h2v1h-2zM76 245h2v1h-2zM81 245h1v1h-1zM87 245h1v1h-1zM109 245h1v1h-1zM113 245h1v1h-1zM123 245h1v1h-1zM136 245h1v1h-1zM9 246h2v1h-2zM18 246h1v1h-1zM21 246h1v1h-1zM25 246h1v1h-1zM27 246h1v1h-1zM30 246h1v1h-1zM34 246h1v1h-1zM36 246h7v1h-7zM46 246h12v1h-12zM59 246h3v1h-3zM63 246h1v1h-1zM65 246h1v1h-1zM67 246h1v1h-1zM69 246h1v1h-1zM71 246h4v1h-4zM76 246h1v1h-1zM78 246h1v1h-1zM85 246h1v1h-1zM94 246h3v1h-3zM103 246h1v1h-1zM107 246h1v1h-1zM0 247h1v1h-1zM7 247h1v1h-1zM9 247h1v1h-1zM11 247h2v1h-2zM15 247h2v1h-2zM20 247h1v1h-1zM23 247h1v1h-1zM25 247h2v1h-2zM28 247h3v1h-3zM34 247h1v1h-1zM38 247h1v1h-1zM42 247h4v1h-4zM47 247h5v1h-5zM53 247h1v1h-1zM55 247h1v1h-1zM57 247h2v1h-2zM60 247h2v1h-2zM63 247h1v1h-1zM66 247h4v1h-4zM71 247h3v1h-3zM75 247h2v1h-2zM78 247h3v1h-3zM88 247h1v1h-1zM94 247h1v1h-1zM0 248h1v1h-1zM3 248h1v1h-1zM16 248h1v1h-1zM18 248h1v1h-1zM23 248h1v1h-1zM27 248h1v1h-1zM30 248h2v1h-2zM39 248h1v1h-1zM42 248h1v1h-1zM44 248h2v1h-2zM48 248h1v1h-1zM51 248h5v1h-5zM57 248h1v1h-1zM59 248h2v1h-2zM67 248h4v1h-4zM74 248h2v1h-2zM80 248h2v1h-2zM90 248h1v1h-1zM114 248h1v1h-1zM119 248h1v1h-1zM134 248h1v1h-1zM0 249h1v1h-1zM8 249h1v1h-1zM27 249h1v1h-1zM29 249h6v1h-6zM36 249h1v1h-1zM39 249h2v1h-2zM42 249h1v1h-1zM44 249h2v1h-2zM47 249h1v1h-1zM49 249h1v1h-1zM51 249h1v1h-1zM53 249h3v1h-3zM57 249h2v1h-2zM60 249h2v1h-2zM64 249h2v1h-2zM67 249h9v1h-9zM78 249h1v1h-1zM80 249h1v1h-1zM84 249h2v1h-2zM87 249h2v1h-2zM90 249h1v1h-1zM96 249h1v1h-1zM102 249h2v1h-2zM0 250h1v1h-1zM4 250h2v1h-2zM9 250h1v1h-1zM12 250h1v1h-1zM25 250h1v1h-1zM27 250h1v1h-1zM31 250h1v1h-1zM33 250h1v1h-1zM35 250h3v1h-3zM41 250h1v1h-1zM43 250h2v1h-2zM46 250h3v1h-3zM50 250h2v1h-2zM54 250h2v1h-2zM58 250h1v1h-1zM66 250h1v1h-1zM68 250h3v1h-3zM76 250h2v1h-2zM83 250h1v1h-1zM93 250h2v1h-2zM114 250h1v1h-1zM9 251h2v1h-2zM17 251h4v1h-4zM24 251h1v1h-1zM31 251h1v1h-1zM33 251h2v1h-2zM36 251h2v1h-2zM39 251h1v1h-1zM41 251h1v1h-1zM43 251h1v1h-1zM46 251h2v1h-2zM49 251h4v1h-4zM54 251h1v1h-1zM58 251h3v1h-3zM64 251h1v1h-1zM68 251h1v1h-1zM70 251h1v1h-1zM72 251h2v1h-2zM75 251h1v1h-1zM79 251h1v1h-1zM82 251h1v1h-1zM84 251h1v1h-1zM88 251h1v1h-1zM92 251h1v1h-1zM113 251h2v1h-2zM0 252h1v1h-1zM5 252h2v1h-2zM9 252h1v1h-1zM11 252h1v1h-1zM24 252h1v1h-1zM26 252h1v1h-1zM28 252h1v1h-1zM31 252h2v1h-2zM35 252h1v1h-1zM37 252h1v1h-1zM39 252h4v1h-4zM45 252h3v1h-3zM49 252h4v1h-4zM55 252h3v1h-3zM59 252h1v1h-1zM61 252h1v1h-1zM63 252h1v1h-1zM65 252h2v1h-2zM68 252h2v1h-2zM71 252h1v1h-1zM73 252h1v1h-1zM75 252h1v1h-1zM91 252h1v1h-1zM94 252h1v1h-1zM133 252h1v1h-1zM0 253h2v1h-2zM3 253h4v1h-4zM22 253h1v1h-1zM24 253h1v1h-1zM29 253h1v1h-1zM32 253h2v1h-2zM39 253h3v1h-3zM43 253h1v1h-1zM45 253h4v1h-4zM50 253h3v1h-3zM54 253h3v1h-3zM58 253h1v1h-1zM60 253h2v1h-2zM63 253h2v1h-2zM66 253h2v1h-2zM76 253h2v1h-2zM79 253h2v1h-2zM94 253h1v1h-1zM98 253h1v1h-1zM122 253h1v1h-1zM0 254h2v1h-2zM3 254h2v1h-2zM6 254h1v1h-1zM9 254h1v1h-1zM12 254h2v1h-2zM17 254h2v1h-2zM23 254h4v1h-4zM28 254h1v1h-1zM30 254h1v1h-1zM32 254h1v1h-1zM34 254h1v1h-1zM37 254h3v1h-3zM41 254h1v1h-1zM43 254h3v1h-3zM48 254h1v1h-1zM50 254h1v1h-1zM53 254h5v1h-5zM59 254h4v1h-4zM64 254h2v1h-2zM67 254h1v1h-1zM73 254h1v1h-1zM75 254h2v1h-2zM78 254h3v1h-3zM82 254h1v1h-1zM86 254h1v1h-1zM105 254h1v1h-1zM118 254h1v1h-1zM138 254h1v1h-1zM0 255h46v1h-46zM47 255h15v1h-15zM63 255h17v1h-17zM81 255h8v1h-8zM90 255h2v1h-2zM93 255h1v1h-1zM95 255h10v1h-10zM106 255h2v1h-2zM109 255h5v1h-5zM115 255h6v1h-6zM122 255h4v1h-4zM127 255h2v1h-2zM130 255h1v1h-1zM132 255h4v1h-4zM137 255h1v1h-1zM140 255h1v1h-1zM142 255h1v1h-1zM149 255h3v1h-3zM153 255h3v1h-3zM157 255h2v1h-2z"/></g>
<rect x="115.8" y="1201.0" width="72.7" height="101" fill="#fff" fill-opacity="0.78"/>
<g fill="#2b2b2b"><rect x="105.3" y="737.3" width="577.4" height="1.5"/><rect x="105.3" y="1313.3" width="577.4" height="1.5"/><rect x="105.3" y="737.3" width="1.5" height="577.4"/><rect x="681.2" y="737.3" width="1.5" height="577.4"/></g>
<rect x="295.9" y="737.5" width="3.3" height="577.0" fill="#000"/>
<rect x="106.0" y="1101.2" width="576.0" height="3.3" fill="#000"/>
<g fill="#000"><rect x="120.75" y="1314.00" width="2.00" height="7.00"/>
<rect x="99.00" y="1295.00" width="7.00" height="2.00"/>
<rect x="133.75" y="1314.00" width="3.00" height="11.30"/>
<rect x="94.70" y="1281.00" width="11.30" height="3.00"/>
<rect x="145.50" y="1314.00" width="2.00" height="7.00"/>
<rect x="99.00" y="1270.25" width="7.00" height="2.00"/>
<rect x="154.50" y="1314.00" width="2.00" height="7.00"/>
<rect x="99.00" y="1261.25" width="7.00" height="2.00"/>
<rect x="163.50" y="1314.00" width="2.00" height="7.00"/>
<rect x="99.00" y="1252.25" width="7.00" height="2.00"/>
<rect x="172.50" y="1314.00" width="2.00" height="7.00"/>
<rect x="99.00" y="1243.25" width="7.00" height="2.00"/>
<rect x="178.25" y="1314.00" width="4.00" height="15.60"/>
<rect x="90.40" y="1235.50" width="15.60" height="4.00"/>
<rect x="222.00" y="1314.00" width="2.00" height="7.00"/>
<rect x="99.00" y="1193.75" width="7.00" height="2.00"/>
<rect x="249.00" y="1314.00" width="2.00" height="7.00"/>
<rect x="99.00" y="1166.75" width="7.00" height="2.00"/>
<rect x="267.00" y="1314.00" width="2.00" height="7.00"/>
<rect x="99.00" y="1148.75" width="7.00" height="2.00"/>
<rect x="280.00" y="1314.00" width="3.00" height="11.30"/>
<rect x="94.70" y="1134.75" width="11.30" height="3.00"/>
<rect x="291.75" y="1314.00" width="2.00" height="7.00"/>
<rect x="99.00" y="1124.00" width="7.00" height="2.00"/>
<rect x="300.75" y="1314.00" width="2.00" height="7.00"/>
<rect x="99.00" y="1115.00" width="7.00" height="2.00"/>
<rect x="309.75" y="1314.00" width="2.00" height="7.00"/>
<rect x="99.00" y="1106.00" width="7.00" height="2.00"/>
<rect x="318.75" y="1314.00" width="2.00" height="7.00"/>
<rect x="99.00" y="1097.00" width="7.00" height="2.00"/>
<rect x="324.50" y="1314.00" width="4.00" height="15.60"/>
<rect x="90.40" y="1089.25" width="15.60" height="4.00"/>
<rect x="368.25" y="1314.00" width="2.00" height="7.00"/>
<rect x="99.00" y="1047.50" width="7.00" height="2.00"/>
<rect x="395.25" y="1314.00" width="2.00" height="7.00"/>
<rect x="99.00" y="1020.50" width="7.00" height="2.00"/>
<rect x="413.25" y="1314.00" width="2.00" height="7.00"/>
<rect x="99.00" y="1002.50" width="7.00" height="2.00"/>
<rect x="426.25" y="1314.00" width="3.00" height="11.30"/>
<rect x="94.70" y="988.50" width="11.30" height="3.00"/>
<rect x="438.00" y="1314.00" width="2.00" height="7.00"/>
<rect x="99.00" y="977.75" width="7.00" height="2.00"/>
<rect x="449.25" y="1314.00" width="2.00" height="7.00"/>
<rect x="99.00" y="966.50" width="7.00" height="2.00"/>
<rect x="456.00" y="1314.00" width="2.00" height="7.00"/>
<rect x="99.00" y="959.75" width="7.00" height="2.00"/>
<rect x="465.00" y="1314.00" width="2.00" height="7.00"/>
<rect x="99.00" y="950.75" width="7.00" height="2.00"/>
<rect x="470.75" y="1314.00" width="4.00" height="15.60"/>
<rect x="90.40" y="943.00" width="15.60" height="4.00"/>
<rect x="514.50" y="1314.00" width="2.00" height="7.00"/>
<rect x="99.00" y="901.25" width="7.00" height="2.00"/>
<rect x="541.50" y="1314.00" width="2.00" height="7.00"/>
<rect x="99.00" y="874.25" width="7.00" height="2.00"/>
<rect x="559.50" y="1314.00" width="2.00" height="7.00"/>
<rect x="99.00" y="856.25" width="7.00" height="2.00"/>
<rect x="572.50" y="1314.00" width="3.00" height="11.30"/>
<rect x="94.70" y="842.25" width="11.30" height="3.00"/>
<rect x="584.25" y="1314.00" width="2.00" height="7.00"/>
<rect x="99.00" y="831.50" width="7.00" height="2.00"/>
<rect x="595.50" y="1314.00" width="2.00" height="7.00"/>
<rect x="99.00" y="820.25" width="7.00" height="2.00"/>
<rect x="602.25" y="1314.00" width="2.00" height="7.00"/>
<rect x="99.00" y="813.50" width="7.00" height="2.00"/>
<rect x="611.25" y="1314.00" width="2.00" height="7.00"/>
<rect x="99.00" y="804.50" width="7.00" height="2.00"/>
<rect x="617.00" y="1314.00" width="4.00" height="15.60"/>
<rect x="90.40" y="796.75" width="15.60" height="4.00"/>
<rect x="660.75" y="1314.00" width="2.00" height="7.00"/>
<rect x="99.00" y="755.00" width="7.00" height="2.00"/></g>
<g fill="#000" font-family="'Liberation Sans', sans-serif"><text x="65.3" y="1252.7" text-anchor="end" font-size="23">10</text>
<text x="67.0" y="1234.5" font-size="23">2</text>
<text x="181.2" y="1382.0" text-anchor="middle" font-size="23">10</text>
<text x="194.8" y="1363.0" font-size="23">2</text>
<text x="65.3" y="1106.5" text-anchor="end" font-size="23">10</text>
<text x="67.0" y="1088.2" font-size="23">3</text>
<text x="327.4" y="1382.0" text-anchor="middle" font-size="23">10</text>
<text x="341.0" y="1363.0" font-size="23">3</text>
<text x="65.3" y="960.2" text-anchor="end" font-size="23">10</text>
<text x="67.0" y="942.0" font-size="23">4</text>
<text x="473.6" y="1382.0" text-anchor="middle" font-size="23">10</text>
<text x="487.2" y="1363.0" font-size="23">4</text>
<text x="65.3" y="814.0" text-anchor="end" font-size="23">10</text>
<text x="67.0" y="795.8" font-size="23">5</text>
<text x="619.9" y="1382.0" text-anchor="middle" font-size="23">10</text>
<text x="633.5" y="1363.0" font-size="23">5</text>
<text x="7.0" y="711.0" font-size="37.5">B</text>
<text x="392" y="1430.1" text-anchor="middle" font-size="27.5">FITC-A</text>
<text transform="translate(24.3 1023.8) rotate(-90)" text-anchor="middle" font-size="27.5">PI-A</text>
<text x="116.3" y="788.8" font-size="27.5">Q1</text>
<text x="116.3" y="830.0" font-size="27.5">0.061</text>
<text x="634.3" y="788.8" text-anchor="end" font-size="27.5">Q2</text>
<text x="633" y="830.0" text-anchor="end" font-size="27.5">1.67</text>
<text x="116.3" y="1241.8" font-size="27.5">Q4</text>
<text x="116.3" y="1282.1" font-size="27.5">85.3</text>
<text x="634.3" y="1241.8" text-anchor="end" font-size="27.5">Q3</text>
<text x="633" y="1282.1" text-anchor="end" font-size="27.5">13.0</text></g>
</svg>
</body></html>
